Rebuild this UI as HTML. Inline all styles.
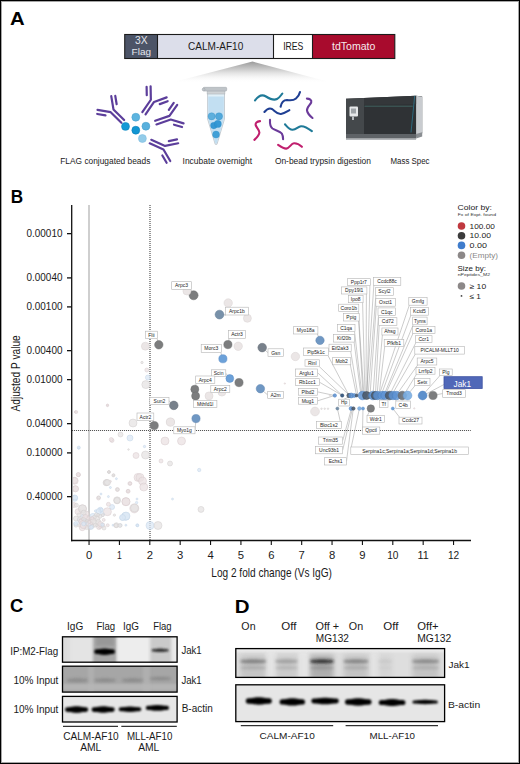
<!DOCTYPE html>
<html><head><meta charset="utf-8"><style>
html,body{margin:0;padding:0;background:#fff;}
body{width:520px;height:764px;overflow:hidden;position:relative;}
#f{position:absolute;left:0;top:0;width:520px;height:764px;box-sizing:border-box;border:1px solid #000;box-shadow:inset 0 0 0 1px rgba(0,0,0,0.35);}
svg{position:absolute;left:0;top:0;}
</style></head><body><div id="f"></div>
<svg width="520" height="764" viewBox="0 0 520 764">
<text x="9.93" y="24.90" font-size="18.00" fill="#000" font-weight="bold" font-family="'Liberation Sans', sans-serif" textLength="14.66" lengthAdjust="spacingAndGlyphs" >A</text>
<defs><linearGradient id="fan" x1="0" y1="0" x2="0" y2="1"><stop offset="0" stop-color="#9a9a9a"/><stop offset="0.45" stop-color="#d8d8d8"/><stop offset="1" stop-color="#ffffff" stop-opacity="0"/></linearGradient></defs>
<polygon points="252.5,61.5 170,83 333,83" fill="url(#fan)"/>
<rect x="125" y="34.5" width="32.5" height="24.0" fill="#4c5467"/>
<rect x="157.5" y="34.5" width="116" height="24.0" fill="#dcdeea"/>
<rect x="273.5" y="34.5" width="39" height="24.0" fill="#ffffff"/>
<rect x="312.5" y="34.5" width="82.3" height="24.0" fill="#a80b2d"/>
<rect x="124.7" y="34.5" width="270.1" height="24.0" fill="none" stroke="#1b1b1b" stroke-width="1.1"/>
<line x1="157.5" y1="34.5" x2="157.5" y2="58.5" stroke="#1b1b1b" stroke-width="1.1"/>
<line x1="273.5" y1="34.5" x2="273.5" y2="58.5" stroke="#1b1b1b" stroke-width="1.1"/>
<line x1="312.5" y1="34.5" x2="312.5" y2="58.5" stroke="#1b1b1b" stroke-width="1.1"/>
<text x="135.00" y="43.50" font-size="10.14" fill="#e4e6ec" font-weight="normal" font-family="'Liberation Sans', sans-serif" textLength="12.62" lengthAdjust="spacingAndGlyphs" >3X</text>
<text x="131.62" y="55.10" font-size="9.71" fill="#e4e6ec" font-weight="normal" font-family="'Liberation Sans', sans-serif" textLength="19.37" lengthAdjust="spacingAndGlyphs" >Flag</text>
<text x="188.05" y="49.80" font-size="10.86" fill="#1a1a1a" font-weight="normal" font-family="'Liberation Sans', sans-serif" textLength="55.20" lengthAdjust="spacingAndGlyphs" >CALM-AF10</text>
<text x="283.15" y="49.90" font-size="10.86" fill="#1a1a1a" font-weight="normal" font-family="'Liberation Sans', sans-serif" textLength="20.20" lengthAdjust="spacingAndGlyphs" >IRES</text>
<text x="332.05" y="49.90" font-size="10.86" fill="#f6eaec" font-weight="normal" font-family="'Liberation Sans', sans-serif" textLength="43.30" lengthAdjust="spacingAndGlyphs" >tdTomato</text>
<text x="60.28" y="163.90" font-size="8.71" fill="#1a1a1a" font-weight="normal" font-family="'Liberation Sans', sans-serif" textLength="90.05" lengthAdjust="spacingAndGlyphs" >FLAG conjugated beads</text>
<text x="182.58" y="163.90" font-size="8.71" fill="#1a1a1a" font-weight="normal" font-family="'Liberation Sans', sans-serif" textLength="69.45" lengthAdjust="spacingAndGlyphs" >Incubate overnight</text>
<text x="274.88" y="163.90" font-size="8.71" fill="#1a1a1a" font-weight="normal" font-family="'Liberation Sans', sans-serif" textLength="96.05" lengthAdjust="spacingAndGlyphs" >On-bead trypsin digestion</text>
<text x="390.48" y="163.90" font-size="8.71" fill="#1a1a1a" font-weight="normal" font-family="'Liberation Sans', sans-serif" textLength="39.05" lengthAdjust="spacingAndGlyphs" >Mass Spec</text>
<circle cx="125.5" cy="126.4" r="3.95" fill="#149ad6" stroke="#0c84bd" stroke-width="0.6"/>
<circle cx="135.8" cy="117.2" r="3.95" fill="#5db4df" stroke="#4aa2d0" stroke-width="0.6"/>
<circle cx="135.8" cy="130.2" r="3.95" fill="#1196d3" stroke="#0a7fba" stroke-width="0.6"/>
<circle cx="145.9" cy="126.2" r="3.95" fill="#58b0dd" stroke="#479fcd" stroke-width="0.6"/>
<circle cx="142.4" cy="138.5" r="3.95" fill="#93cce9" stroke="#80bde0" stroke-width="0.6"/>
<path transform="translate(112.3,111) rotate(-45)" d="M1.95,14.80 L1.95,-0.30 L9.73,-11.21 M-1.95,14.80 L-1.95,-0.30 L-9.73,-11.21 M7.88,-1.72 L12.76,-8.56 M-7.88,-1.72 L-12.76,-8.56" stroke="#5c3e9b" stroke-width="2.2" stroke-linecap="round" stroke-linejoin="round" fill="none"/>
<path transform="translate(152.3,101.1) rotate(34.4)" d="M1.95,14.80 L1.95,-0.30 L9.73,-11.21 M-1.95,14.80 L-1.95,-0.30 L-9.73,-11.21 M7.88,-1.72 L12.76,-8.56 M-7.88,-1.72 L-12.76,-8.56" stroke="#5c3e9b" stroke-width="2.2" stroke-linecap="round" stroke-linejoin="round" fill="none"/>
<path transform="translate(169.8,117.8) rotate(70.9)" d="M1.95,14.80 L1.95,-0.30 L9.73,-11.21 M-1.95,14.80 L-1.95,-0.30 L-9.73,-11.21 M7.88,-1.72 L12.76,-8.56 M-7.88,-1.72 L-12.76,-8.56" stroke="#5c3e9b" stroke-width="2.2" stroke-linecap="round" stroke-linejoin="round" fill="none"/>
<path transform="translate(164,147.6) rotate(114.1)" d="M1.95,14.80 L1.95,-0.30 L9.73,-11.21 M-1.95,14.80 L-1.95,-0.30 L-9.73,-11.21 M7.88,-1.72 L12.76,-8.56 M-7.88,-1.72 L-12.76,-8.56" stroke="#5c3e9b" stroke-width="2.2" stroke-linecap="round" stroke-linejoin="round" fill="none"/>
<g><path d="M207.6,93.6 L224.5,93.6 L224.5,119 L217,144.3 L215.2,144.3 L207.6,119 Z" fill="#e2f0f8" stroke="#b3bcc3" stroke-width="0.7"/><path d="M208.3,96.5 L223.8,96.5 L223.8,119 L216.8,143.2 L215.4,143.2 L208.3,119 Z" fill="#c2dff2"/><rect x="207.1" y="90.8" width="17.8" height="3.2" fill="#cfd3d6" stroke="#a9afb4" stroke-width="0.5"/><rect x="203.2" y="87.3" width="23.5" height="3.8" rx="1" fill="#bfc4c8" stroke="#9ca3a9" stroke-width="0.5"/><circle cx="203.6" cy="89.5" r="1.4" fill="#bfc4c8" stroke="#9ca3a9" stroke-width="0.5"/></g>
<circle cx="211.6" cy="116.3" r="3.6" fill="#58addc" stroke="#2585c0" stroke-width="0.3" opacity="0.95"/>
<circle cx="219" cy="116.3" r="3.6" fill="#4ba6da" stroke="#2585c0" stroke-width="0.3" opacity="0.95"/>
<circle cx="213.8" cy="125.6" r="3.3" fill="#2f95d3" stroke="#2585c0" stroke-width="0.3" opacity="0.95"/>
<circle cx="217.8" cy="123.9" r="3.6" fill="#2f96d4" stroke="#2585c0" stroke-width="0.3" opacity="0.95"/>
<circle cx="216" cy="134.5" r="3.5" fill="#3a9dd6" stroke="#2585c0" stroke-width="0.3" opacity="0.95"/>
<path d="M255,100.5 C258.5,95.5 262,94 266,96.5 C270,99 274,100.5 277,99 C280,97.5 281,95 282.3,93.6" stroke="#1f7a98" stroke-width="2.1" fill="none" stroke-linecap="round"/>
<path d="M280.6,106.8 C281.5,102 284,100 287,100 C290,100.5 293,101 296,98.5 C298.5,96.5 299.5,94 300,92" stroke="#1f3f93" stroke-width="2.1" fill="none" stroke-linecap="round"/>
<path d="M264.4,112 C266.5,109.5 269,107.5 272,109 C275,111 277,114.5 281,114 C284.5,113.5 287,111.5 289.4,110.2" stroke="#1f3f93" stroke-width="2.1" fill="none" stroke-linecap="round"/>
<path d="M306.9,98.6 C309.5,98.6 312,100 311.2,102.5 C310,105 306.5,107.5 307,110.5 C307.5,113.5 310,116 312.5,118" stroke="#6b3a9a" stroke-width="2.1" fill="none" stroke-linecap="round"/>
<path d="M260,121.1 C257,121.5 255,123 255.8,125.5 C256.8,128 259.5,130 259.4,132.5 C259.2,135.5 256.5,138 254.4,139.9" stroke="#c01f6e" stroke-width="2.1" fill="none" stroke-linecap="round"/>
<path d="M270,119.9 C269.8,123 270,126.5 272.5,128.5 C275.5,130.5 280,131 281.8,133.5 C283,135.5 283.1,137.5 283.1,139.3" stroke="#6b3a9a" stroke-width="2.1" fill="none" stroke-linecap="round"/>
<path d="M285,124.3 C287,126.5 289,129.5 292.5,129.8 C296,130 298,126.5 301,126.2 C304.5,126 308.5,128.5 311.9,131.1" stroke="#1f7a98" stroke-width="2.1" fill="none" stroke-linecap="round"/>
<path d="M278.1,144.9 C280.5,146.5 283.5,148.8 286.3,148.6 C289.5,148.4 291,143.5 294,143.3 C297,143.2 300,145 301.9,146.8" stroke="#c01f6e" stroke-width="2.1" fill="none" stroke-linecap="round"/>
<g><path d="M346,98.7 L416.1,95.8 L422.2,96.6 L422.2,133.2 L416,137 L346,137 Z" fill="#2f3235"/><path d="M416.1,95.8 L422.2,96.8 L422.2,133.4 L416.1,135 Z" fill="#c9ccd0"/><path d="M346,98.7 L364,98 L364,134.4 L346,134.4 Z" fill="#44484b"/><path d="M364,98 L416.1,95.8 L416.1,104 L364,105 Z" fill="#34373a"/><line x1="364.5" y1="106.2" x2="412.7" y2="106.2" stroke="#4f8a80" stroke-width="0.55"/><line x1="414.7" y1="95.8" x2="411" y2="132.5" stroke="#2c8fae" stroke-width="0.6"/><rect x="346" y="134" width="70.1" height="4.6" fill="#5f6367"/><path d="M416.1,134 L422.2,132.2 L422.2,136.6 L416.1,138.6 Z" fill="#8a8e92"/><rect x="346" y="138.6" width="70.1" height="1.2" fill="#a3a7ab"/><rect x="349.5" y="106.5" width="8.5" height="10" rx="1" fill="#e6e8ea"/><rect x="351" y="108.5" width="5" height="5" fill="#9fa4a8"/><rect x="352" y="116.5" width="2" height="3.5" fill="#b8bcc0"/></g>
<text x="10.72" y="203.30" font-size="18.14" fill="#000" font-weight="bold" font-family="'Liberation Sans', sans-serif" textLength="12.38" lengthAdjust="spacingAndGlyphs" >B</text>
<line x1="89" y1="205" x2="89" y2="540" stroke="#c3c3c3" stroke-width="1.6"/>
<line x1="150" y1="205" x2="150" y2="540" stroke="#505050" stroke-width="1.2" stroke-dasharray="1.1,0.9"/>
<line x1="72" y1="430.5" x2="470.8" y2="430.5" stroke="#555" stroke-width="1.1" stroke-dasharray="1.1,0.9"/>
<clipPath id="pc"><rect x="73" y="200" width="420" height="340"/></clipPath><g clip-path="url(#pc)">
<circle cx="109" cy="472" r="1.5" fill="#e6e3e3" stroke="#d0cccc" stroke-width="0.5" fill-opacity="0.75"/>
<circle cx="113.3" cy="475.4" r="1.5" fill="#e6e3e3" stroke="#d0cccc" stroke-width="0.5" fill-opacity="0.75"/>
<circle cx="116.4" cy="478.7" r="1" fill="#dbe7f4" stroke="#c2d4e7" stroke-width="0.5" fill-opacity="0.75"/>
<circle cx="78.3" cy="474.7" r="2" fill="#ebe2e3" stroke="#d6cbcd" stroke-width="0.5" fill-opacity="0.75"/>
<circle cx="74.7" cy="480.8" r="3.5" fill="#ebe2e3" stroke="#d6cbcd" stroke-width="0.5" fill-opacity="0.75"/>
<circle cx="106.1" cy="482.8" r="3" fill="#e6e3e3" stroke="#d0cccc" stroke-width="0.5" fill-opacity="0.75"/>
<circle cx="110.4" cy="481.4" r="1" fill="#ebe2e3" stroke="#d6cbcd" stroke-width="0.5" fill-opacity="0.75"/>
<circle cx="110.4" cy="487.5" r="1" fill="#dbe7f4" stroke="#c2d4e7" stroke-width="0.5" fill-opacity="0.75"/>
<circle cx="117.4" cy="489.5" r="2" fill="#ebe2e3" stroke="#d6cbcd" stroke-width="0.5" fill-opacity="0.75"/>
<circle cx="128.1" cy="491.3" r="2" fill="#ebe2e3" stroke="#d6cbcd" stroke-width="0.5" fill-opacity="0.75"/>
<circle cx="129.9" cy="483.5" r="2" fill="#ebe2e3" stroke="#d6cbcd" stroke-width="0.5" fill-opacity="0.75"/>
<circle cx="138" cy="477.4" r="4" fill="#ebe2e3" stroke="#d6cbcd" stroke-width="0.5" fill-opacity="0.75"/>
<circle cx="75.4" cy="488.8" r="3" fill="#ebe2e3" stroke="#d6cbcd" stroke-width="0.5" fill-opacity="0.75"/>
<circle cx="101" cy="494" r="1" fill="#dbe7f4" stroke="#c2d4e7" stroke-width="0.5" fill-opacity="0.75"/>
<circle cx="108.4" cy="496.6" r="1" fill="#dbe7f4" stroke="#c2d4e7" stroke-width="0.5" fill-opacity="0.75"/>
<circle cx="98.5" cy="498" r="2" fill="#ebe2e3" stroke="#d6cbcd" stroke-width="0.5" fill-opacity="0.75"/>
<circle cx="74.7" cy="498.3" r="3" fill="#dbe7f4" stroke="#c2d4e7" stroke-width="0.5" fill-opacity="0.75"/>
<circle cx="117.1" cy="500.3" r="3.5" fill="#e6e3e3" stroke="#d0cccc" stroke-width="0.5" fill-opacity="0.75"/>
<circle cx="125.9" cy="501.6" r="4" fill="#ebe2e3" stroke="#d6cbcd" stroke-width="0.5" fill-opacity="0.75"/>
<circle cx="136.6" cy="502.6" r="1.2" fill="#dbe7f4" stroke="#c2d4e7" stroke-width="0.5" fill-opacity="0.75"/>
<circle cx="134.3" cy="508.4" r="4.5" fill="#ebe2e3" stroke="#d6cbcd" stroke-width="0.5" fill-opacity="0.75"/>
<circle cx="82.4" cy="508.8" r="4" fill="#ebe2e3" stroke="#d6cbcd" stroke-width="0.5" fill-opacity="0.75"/>
<circle cx="112.1" cy="507" r="2.5" fill="#dbe7f4" stroke="#c2d4e7" stroke-width="0.5" fill-opacity="0.75"/>
<circle cx="108.4" cy="504.3" r="2" fill="#ebe2e3" stroke="#d6cbcd" stroke-width="0.5" fill-opacity="0.75"/>
<circle cx="107.4" cy="511.7" r="4" fill="#ebe2e3" stroke="#d6cbcd" stroke-width="0.5" fill-opacity="0.75"/>
<circle cx="100.3" cy="509.7" r="2.5" fill="#dbe7f4" stroke="#c2d4e7" stroke-width="0.5" fill-opacity="0.75"/>
<circle cx="102.3" cy="514.4" r="2" fill="#dbe7f4" stroke="#c2d4e7" stroke-width="0.5" fill-opacity="0.75"/>
<circle cx="95.6" cy="511" r="1.2" fill="#dbe7f4" stroke="#c2d4e7" stroke-width="0.5" fill-opacity="0.75"/>
<circle cx="114.4" cy="515.1" r="1.2" fill="#e6e3e3" stroke="#d0cccc" stroke-width="0.5" fill-opacity="0.75"/>
<circle cx="125.5" cy="516.4" r="4" fill="#dbe7f4" stroke="#c2d4e7" stroke-width="0.5" fill-opacity="0.75"/>
<circle cx="122.5" cy="517.8" r="2.5" fill="#dbe7f4" stroke="#c2d4e7" stroke-width="0.5" fill-opacity="0.75"/>
<circle cx="92.9" cy="516.4" r="3" fill="#dbe7f4" stroke="#c2d4e7" stroke-width="0.5" fill-opacity="0.75"/>
<circle cx="96.9" cy="518.5" r="3" fill="#e6e3e3" stroke="#d0cccc" stroke-width="0.5" fill-opacity="0.75"/>
<circle cx="83.5" cy="517.1" r="3" fill="#dbe7f4" stroke="#c2d4e7" stroke-width="0.5" fill-opacity="0.75"/>
<circle cx="78" cy="511.7" r="3" fill="#ebe2e3" stroke="#d6cbcd" stroke-width="0.5" fill-opacity="0.75"/>
<circle cx="74" cy="505" r="2.5" fill="#ebe2e3" stroke="#d6cbcd" stroke-width="0.5" fill-opacity="0.75"/>
<circle cx="76" cy="518.5" r="2.5" fill="#e6e3e3" stroke="#d0cccc" stroke-width="0.5" fill-opacity="0.75"/>
<circle cx="87.5" cy="521.8" r="2.5" fill="#e6e3e3" stroke="#d0cccc" stroke-width="0.5" fill-opacity="0.75"/>
<circle cx="90.9" cy="524.5" r="3" fill="#ebe2e3" stroke="#d6cbcd" stroke-width="0.5" fill-opacity="0.75"/>
<circle cx="98.3" cy="521.8" r="2.5" fill="#e6e3e3" stroke="#d0cccc" stroke-width="0.5" fill-opacity="0.75"/>
<circle cx="102.3" cy="525.2" r="2.5" fill="#ebe2e3" stroke="#d6cbcd" stroke-width="0.5" fill-opacity="0.75"/>
<circle cx="107.7" cy="525.2" r="1.5" fill="#ebe2e3" stroke="#d6cbcd" stroke-width="0.5" fill-opacity="0.75"/>
<circle cx="113.1" cy="525.2" r="1" fill="#dbe7f4" stroke="#c2d4e7" stroke-width="0.5" fill-opacity="0.75"/>
<circle cx="116.4" cy="525.2" r="2.5" fill="#e6e3e3" stroke="#d0cccc" stroke-width="0.5" fill-opacity="0.75"/>
<circle cx="120.5" cy="525.2" r="1.5" fill="#dbe7f4" stroke="#c2d4e7" stroke-width="0.5" fill-opacity="0.75"/>
<circle cx="125.9" cy="525.2" r="1" fill="#dbe7f4" stroke="#c2d4e7" stroke-width="0.5" fill-opacity="0.75"/>
<circle cx="137.3" cy="525.2" r="1.5" fill="#dbe7f4" stroke="#c2d4e7" stroke-width="0.5" fill-opacity="0.75"/>
<circle cx="76" cy="525.2" r="2" fill="#e6e3e3" stroke="#d0cccc" stroke-width="0.5" fill-opacity="0.75"/>
<circle cx="80" cy="525.2" r="2" fill="#e6e3e3" stroke="#d0cccc" stroke-width="0.5" fill-opacity="0.75"/>
<circle cx="83.5" cy="523.8" r="2" fill="#ebe2e3" stroke="#d6cbcd" stroke-width="0.5" fill-opacity="0.75"/>
<circle cx="95" cy="525.2" r="2" fill="#e6e3e3" stroke="#d0cccc" stroke-width="0.5" fill-opacity="0.75"/>
<circle cx="86" cy="514" r="3" fill="#ebe2e3" stroke="#d6cbcd" stroke-width="0.5" fill-opacity="0.75"/>
<circle cx="80" cy="520" r="2.5" fill="#dbe7f4" stroke="#c2d4e7" stroke-width="0.5" fill-opacity="0.75"/>
<circle cx="88" cy="518" r="2" fill="#ebe2e3" stroke="#d6cbcd" stroke-width="0.5" fill-opacity="0.75"/>
<circle cx="92" cy="521" r="2.5" fill="#ebe2e3" stroke="#d6cbcd" stroke-width="0.5" fill-opacity="0.75"/>
<circle cx="79" cy="515" r="2" fill="#e6e3e3" stroke="#d0cccc" stroke-width="0.5" fill-opacity="0.75"/>
<circle cx="85" cy="526" r="2.5" fill="#ebe2e3" stroke="#d6cbcd" stroke-width="0.5" fill-opacity="0.75"/>
<circle cx="90" cy="527.5" r="2" fill="#e6e3e3" stroke="#d0cccc" stroke-width="0.5" fill-opacity="0.75"/>
<circle cx="99" cy="527" r="2.5" fill="#ebe2e3" stroke="#d6cbcd" stroke-width="0.5" fill-opacity="0.75"/>
<circle cx="104" cy="528" r="2" fill="#e6e3e3" stroke="#d0cccc" stroke-width="0.5" fill-opacity="0.75"/>
<circle cx="120.5" cy="434.5" r="2.5" fill="#e6e3e3" stroke="#d0cccc" stroke-width="0.5" fill-opacity="0.75"/>
<circle cx="130" cy="438" r="3" fill="#dbe7f4" stroke="#c2d4e7" stroke-width="0.5" fill-opacity="0.75"/>
<circle cx="112" cy="440.5" r="2" fill="#ebe2e3" stroke="#d6cbcd" stroke-width="0.5" fill-opacity="0.75"/>
<circle cx="165" cy="441" r="4" fill="#ebe2e3" stroke="#d6cbcd" stroke-width="0.5" fill-opacity="0.75"/>
<circle cx="181.5" cy="441" r="4" fill="#ebe2e3" stroke="#d6cbcd" stroke-width="0.5" fill-opacity="0.75"/>
<circle cx="78.75" cy="448" r="1.2" fill="#dbe7f4" stroke="#c2d4e7" stroke-width="0.5" fill-opacity="0.75"/>
<circle cx="144.5" cy="446.5" r="1.2" fill="#dbe7f4" stroke="#c2d4e7" stroke-width="0.5" fill-opacity="0.75"/>
<circle cx="128.5" cy="449.5" r="0.8" fill="#e6e3e3" stroke="#d0cccc" stroke-width="0.5" fill-opacity="0.75"/>
<circle cx="136" cy="455.5" r="3" fill="#ebe2e3" stroke="#d6cbcd" stroke-width="0.5" fill-opacity="0.75"/>
<circle cx="145.5" cy="455" r="4" fill="#e6e3e3" stroke="#d0cccc" stroke-width="0.5" fill-opacity="0.75"/>
<circle cx="161" cy="461" r="2" fill="#ebe2e3" stroke="#d6cbcd" stroke-width="0.5" fill-opacity="0.75"/>
<circle cx="170" cy="463.5" r="2.5" fill="#e6e3e3" stroke="#d0cccc" stroke-width="0.5" fill-opacity="0.75"/>
<circle cx="199.2" cy="470" r="1.7" fill="#dbe7f4" stroke="#c2d4e7" stroke-width="0.5" fill-opacity="0.75"/>
<circle cx="78.75" cy="475" r="1.5" fill="#ebe2e3" stroke="#d6cbcd" stroke-width="0.5" fill-opacity="0.75"/>
<circle cx="109" cy="472" r="1.2" fill="#e6e3e3" stroke="#d0cccc" stroke-width="0.5" fill-opacity="0.75"/>
<circle cx="106.5" cy="482.5" r="3" fill="#e6e3e3" stroke="#d0cccc" stroke-width="0.5" fill-opacity="0.75"/>
<circle cx="140" cy="477.5" r="4" fill="#ebe2e3" stroke="#d6cbcd" stroke-width="0.5" fill-opacity="0.75"/>
<circle cx="142.5" cy="481" r="4" fill="#ebe2e3" stroke="#d6cbcd" stroke-width="0.5" fill-opacity="0.75"/>
<circle cx="143.75" cy="487" r="4" fill="#ebe2e3" stroke="#d6cbcd" stroke-width="0.5" fill-opacity="0.75"/>
<circle cx="130" cy="483.5" r="1.5" fill="#ebe2e3" stroke="#d6cbcd" stroke-width="0.5" fill-opacity="0.75"/>
<circle cx="117.5" cy="489.5" r="1.5" fill="#e6e3e3" stroke="#d0cccc" stroke-width="0.5" fill-opacity="0.75"/>
<circle cx="128" cy="491" r="1.5" fill="#ebe2e3" stroke="#d6cbcd" stroke-width="0.5" fill-opacity="0.75"/>
<circle cx="98.75" cy="497.5" r="1.5" fill="#e6e3e3" stroke="#d0cccc" stroke-width="0.5" fill-opacity="0.75"/>
<circle cx="117" cy="500.5" r="3" fill="#e6e3e3" stroke="#d0cccc" stroke-width="0.5" fill-opacity="0.75"/>
<circle cx="126" cy="501.75" r="4" fill="#ebe2e3" stroke="#d6cbcd" stroke-width="0.5" fill-opacity="0.75"/>
<circle cx="134.5" cy="508" r="4" fill="#e6e3e3" stroke="#d0cccc" stroke-width="0.5" fill-opacity="0.75"/>
<circle cx="137" cy="499" r="1" fill="#dbe7f4" stroke="#c2d4e7" stroke-width="0.5" fill-opacity="0.75"/>
<circle cx="172.5" cy="499" r="1" fill="#dbe7f4" stroke="#c2d4e7" stroke-width="0.5" fill-opacity="0.75"/>
<circle cx="201" cy="509.4" r="3" fill="#e6e3e3" stroke="#d0cccc" stroke-width="0.5" fill-opacity="0.75"/>
<circle cx="126" cy="516" r="4" fill="#dbe7f4" stroke="#c2d4e7" stroke-width="0.5" fill-opacity="0.75"/>
<circle cx="122.5" cy="517.5" r="3" fill="#dbe7f4" stroke="#c2d4e7" stroke-width="0.5" fill-opacity="0.75"/>
<circle cx="116" cy="525.5" r="2" fill="#e6e3e3" stroke="#d0cccc" stroke-width="0.5" fill-opacity="0.75"/>
<circle cx="120" cy="525.5" r="2" fill="#e6e3e3" stroke="#d0cccc" stroke-width="0.5" fill-opacity="0.75"/>
<circle cx="137.5" cy="525.5" r="1.2" fill="#dbe7f4" stroke="#c2d4e7" stroke-width="0.5" fill-opacity="0.75"/>
<circle cx="150" cy="525.5" r="4" fill="#dbe7f4" stroke="#c2d4e7" stroke-width="0.5" fill-opacity="0.75"/>
<circle cx="158" cy="525.5" r="4" fill="#e6e3e3" stroke="#d0cccc" stroke-width="0.5" fill-opacity="0.75"/>
<circle cx="142" cy="362.5" r="1.2" fill="#e6e3e3" stroke="#d0cccc" stroke-width="0.5" fill-opacity="0.75"/>
<circle cx="146.8" cy="370" r="2" fill="#ebe2e3" stroke="#d6cbcd" stroke-width="0.5" fill-opacity="0.75"/>
<circle cx="147.9" cy="377.5" r="2.5" fill="#dbe7f4" stroke="#c2d4e7" stroke-width="0.5" fill-opacity="0.75"/>
<circle cx="145.8" cy="384.6" r="4" fill="#e6e3e3" stroke="#d0cccc" stroke-width="0.5" fill-opacity="0.75"/>
<circle cx="107.5" cy="405.5" r="1.2" fill="#ebe2e3" stroke="#d6cbcd" stroke-width="0.5" fill-opacity="0.75"/>
<circle cx="75.5" cy="412" r="1.2" fill="#ebe2e3" stroke="#d6cbcd" stroke-width="0.5" fill-opacity="0.75"/>
<circle cx="76.25" cy="412" r="1.5" fill="#ebe2e3" stroke="#d6cbcd" stroke-width="0.5" fill-opacity="0.75"/>
<circle cx="107.5" cy="405" r="1" fill="#ebe2e3" stroke="#d6cbcd" stroke-width="0.5" fill-opacity="0.75"/>
<circle cx="133" cy="423" r="4" fill="#e6e3e3" stroke="#d0cccc" stroke-width="0.5" fill-opacity="0.75"/>
<circle cx="170.5" cy="422" r="4" fill="#e6e3e3" stroke="#d0cccc" stroke-width="0.5" fill-opacity="0.75"/>
<circle cx="111.25" cy="439.5" r="2" fill="#ebe2e3" stroke="#d6cbcd" stroke-width="0.5" fill-opacity="0.75"/>
<circle cx="78.75" cy="447.5" r="1.5" fill="#dbe7f4" stroke="#c2d4e7" stroke-width="0.5" fill-opacity="0.75"/>
<circle cx="78.25" cy="474.5" r="2" fill="#ebe2e3" stroke="#d6cbcd" stroke-width="0.5" fill-opacity="0.75"/>
<circle cx="74.5" cy="480.5" r="3" fill="#ebe2e3" stroke="#d6cbcd" stroke-width="0.5" fill-opacity="0.75"/>
<circle cx="75.5" cy="488.75" r="3" fill="#ebe2e3" stroke="#d6cbcd" stroke-width="0.5" fill-opacity="0.75"/>
<circle cx="75" cy="497.5" r="2.5" fill="#dbe7f4" stroke="#c2d4e7" stroke-width="0.5" fill-opacity="0.75"/>
<circle cx="82.5" cy="508.75" r="4" fill="#e6e3e3" stroke="#d0cccc" stroke-width="0.5" fill-opacity="0.75"/>
<circle cx="108.75" cy="472" r="1.2" fill="#e6e3e3" stroke="#d0cccc" stroke-width="0.5" fill-opacity="0.75"/>
<circle cx="113.75" cy="475" r="1.2" fill="#e6e3e3" stroke="#d0cccc" stroke-width="0.5" fill-opacity="0.75"/>
<circle cx="107.5" cy="482.5" r="3" fill="#e6e3e3" stroke="#d0cccc" stroke-width="0.5" fill-opacity="0.75"/>
<circle cx="94.5" cy="517" r="2" fill="#e6e3e3" stroke="#d0cccc" stroke-width="0.5" fill-opacity="0.75"/>
<circle cx="100" cy="516.25" r="2" fill="#e6e3e3" stroke="#d0cccc" stroke-width="0.5" fill-opacity="0.75"/>
<circle cx="101.25" cy="510" r="2" fill="#dbe7f4" stroke="#c2d4e7" stroke-width="0.5" fill-opacity="0.75"/>
<circle cx="80.4" cy="519.6" r="3" fill="#e6e3e3" stroke="#d0cccc" stroke-width="0.5" fill-opacity="0.75"/>
<circle cx="91.8" cy="519.1" r="2.5" fill="#ebe2e3" stroke="#d6cbcd" stroke-width="0.5" fill-opacity="0.75"/>
<circle cx="90.1" cy="525.7" r="3" fill="#dbe7f4" stroke="#c2d4e7" stroke-width="0.5" fill-opacity="0.75"/>
<circle cx="85.3" cy="517.0" r="1.5" fill="#ebe2e3" stroke="#d6cbcd" stroke-width="0.5" fill-opacity="0.75"/>
<circle cx="99.9" cy="527.3" r="1.2" fill="#ebe2e3" stroke="#d6cbcd" stroke-width="0.5" fill-opacity="0.75"/>
<circle cx="96.5" cy="514.6" r="2" fill="#e6e3e3" stroke="#d0cccc" stroke-width="0.5" fill-opacity="0.75"/>
<circle cx="98.5" cy="511.2" r="2.5" fill="#dbe7f4" stroke="#c2d4e7" stroke-width="0.5" fill-opacity="0.75"/>
<circle cx="85.2" cy="516.7" r="2.5" fill="#ebe2e3" stroke="#d6cbcd" stroke-width="0.5" fill-opacity="0.75"/>
<circle cx="100.2" cy="523.9" r="2.5" fill="#ebe2e3" stroke="#d6cbcd" stroke-width="0.5" fill-opacity="0.75"/>
<circle cx="86.1" cy="523.3" r="3" fill="#ebe2e3" stroke="#d6cbcd" stroke-width="0.5" fill-opacity="0.75"/>
<circle cx="89.6" cy="527.1" r="1.2" fill="#ebe2e3" stroke="#d6cbcd" stroke-width="0.5" fill-opacity="0.75"/>
<circle cx="103.7" cy="519.9" r="1.5" fill="#ebe2e3" stroke="#d6cbcd" stroke-width="0.5" fill-opacity="0.75"/>
<circle cx="102.9" cy="515.1" r="1.5" fill="#e6e3e3" stroke="#d0cccc" stroke-width="0.5" fill-opacity="0.75"/>
<circle cx="81.3" cy="522.0" r="2.5" fill="#dbe7f4" stroke="#c2d4e7" stroke-width="0.5" fill-opacity="0.75"/>
<circle cx="75.7" cy="523.6" r="2" fill="#dbe7f4" stroke="#c2d4e7" stroke-width="0.5" fill-opacity="0.75"/>
<circle cx="96.8" cy="525.3" r="1.2" fill="#e6e3e3" stroke="#d0cccc" stroke-width="0.5" fill-opacity="0.75"/>
<circle cx="92.1" cy="526.4" r="2" fill="#e6e3e3" stroke="#d0cccc" stroke-width="0.5" fill-opacity="0.75"/>
<circle cx="80.3" cy="520.1" r="1.2" fill="#e6e3e3" stroke="#d0cccc" stroke-width="0.5" fill-opacity="0.75"/>
<circle cx="76.4" cy="505.2" r="2" fill="#e6e3e3" stroke="#d0cccc" stroke-width="0.5" fill-opacity="0.75"/>
<circle cx="81.2" cy="520.4" r="2" fill="#ebe2e3" stroke="#d6cbcd" stroke-width="0.5" fill-opacity="0.75"/>
<circle cx="84.2" cy="522.3" r="3" fill="#dbe7f4" stroke="#c2d4e7" stroke-width="0.5" fill-opacity="0.75"/>
<circle cx="93.0" cy="521.3" r="3" fill="#e6e3e3" stroke="#d0cccc" stroke-width="0.5" fill-opacity="0.75"/>
<circle cx="92.2" cy="518.4" r="1.5" fill="#ebe2e3" stroke="#d6cbcd" stroke-width="0.5" fill-opacity="0.75"/>
<circle cx="86.6" cy="527.6" r="2" fill="#e6e3e3" stroke="#d0cccc" stroke-width="0.5" fill-opacity="0.75"/>
<circle cx="83.5" cy="520.2" r="2.5" fill="#e6e3e3" stroke="#d0cccc" stroke-width="0.5" fill-opacity="0.75"/>
<circle cx="91.3" cy="527.4" r="2" fill="#dbe7f4" stroke="#c2d4e7" stroke-width="0.5" fill-opacity="0.75"/>
<circle cx="83.9" cy="522.4" r="2.5" fill="#e6e3e3" stroke="#d0cccc" stroke-width="0.5" fill-opacity="0.75"/>
<circle cx="91.3" cy="523.4" r="1.2" fill="#ebe2e3" stroke="#d6cbcd" stroke-width="0.5" fill-opacity="0.75"/>
<circle cx="80.8" cy="521.4" r="2" fill="#ebe2e3" stroke="#d6cbcd" stroke-width="0.5" fill-opacity="0.75"/>
<circle cx="82.7" cy="523.7" r="3" fill="#ebe2e3" stroke="#d6cbcd" stroke-width="0.5" fill-opacity="0.75"/>
<circle cx="82.3" cy="527.7" r="3" fill="#ebe2e3" stroke="#d6cbcd" stroke-width="0.5" fill-opacity="0.75"/>
<circle cx="82.6" cy="525.9" r="2" fill="#ebe2e3" stroke="#d6cbcd" stroke-width="0.5" fill-opacity="0.75"/>
<circle cx="83.2" cy="525.6" r="3" fill="#ebe2e3" stroke="#d6cbcd" stroke-width="0.5" fill-opacity="0.75"/>
<circle cx="102.4" cy="524.7" r="1.5" fill="#dbe7f4" stroke="#c2d4e7" stroke-width="0.5" fill-opacity="0.75"/>
<circle cx="98.1" cy="515.0" r="1.5" fill="#e6e3e3" stroke="#d0cccc" stroke-width="0.5" fill-opacity="0.75"/>
<circle cx="87.0" cy="520.9" r="1.2" fill="#e6e3e3" stroke="#d0cccc" stroke-width="0.5" fill-opacity="0.75"/>
<circle cx="89.4" cy="522.0" r="1.5" fill="#ebe2e3" stroke="#d6cbcd" stroke-width="0.5" fill-opacity="0.75"/>
<circle cx="83.5" cy="511.9" r="1.2" fill="#e6e3e3" stroke="#d0cccc" stroke-width="0.5" fill-opacity="0.75"/>
<circle cx="83.7" cy="523.8" r="2" fill="#dbe7f4" stroke="#c2d4e7" stroke-width="0.5" fill-opacity="0.75"/>
<circle cx="83.7" cy="512.6" r="2.5" fill="#e6e3e3" stroke="#d0cccc" stroke-width="0.5" fill-opacity="0.75"/>
</g>
<g stroke="#8d8d8d" stroke-width="0.45" fill="none"><line x1="190.90" y1="289.40" x2="193.6" y2="295.3"/><line x1="226.00" y1="315.00" x2="219.5" y2="314.6"/><line x1="157.00" y1="338.30" x2="159" y2="344.8"/><line x1="229.10" y1="338.30" x2="227.9" y2="344.6"/><line x1="220.80" y1="352.50" x2="222.9" y2="358.75"/><line x1="268.00" y1="352.65" x2="261.8" y2="347.5"/><line x1="225.80" y1="373.20" x2="229.5" y2="378.2"/><line x1="196.20" y1="383.40" x2="194.5" y2="389.5"/><line x1="267.70" y1="394.95" x2="260.3" y2="388.6"/><line x1="194.00" y1="400.30" x2="195.4" y2="396"/><line x1="169.00" y1="400.85" x2="173.8" y2="405.2"/><line x1="153.30" y1="420.30" x2="154.2" y2="425.5"/><line x1="195.00" y1="430.30" x2="196" y2="418.8"/><line x1="317.40" y1="334.00" x2="320" y2="340.4"/><line x1="328.00" y1="355.60" x2="349" y2="395.5"/><line x1="318.90" y1="366.20" x2="349.5" y2="395.5"/><line x1="317.50" y1="372.65" x2="342.3" y2="395.5"/><line x1="319.40" y1="382.15" x2="342.3" y2="395.5"/><line x1="317.50" y1="391.85" x2="334.6" y2="395.5"/><line x1="317.50" y1="400.85" x2="334.6" y2="395.5"/><line x1="344.10" y1="399.20" x2="351.5" y2="395.5"/><line x1="340.30" y1="421.50" x2="337.4" y2="408.5"/><line x1="342.70" y1="440.60" x2="351.5" y2="408.5"/><line x1="342.70" y1="450.15" x2="352.5" y2="408.5"/><line x1="346.50" y1="461.35" x2="353.3" y2="408.5"/><line x1="351.30" y1="447.00" x2="359.4" y2="408.5"/><line x1="362.50" y1="430.60" x2="363" y2="408.5"/><line x1="367.50" y1="415.40" x2="370.8" y2="408.5"/><line x1="383.75" y1="400.00" x2="383.8" y2="395.5"/><line x1="396.30" y1="401.00" x2="391.5" y2="395.5"/><line x1="399.50" y1="417.20" x2="392.8" y2="408.5"/><line x1="442.70" y1="393.50" x2="433" y2="395.5"/><line x1="440.00" y1="375.50" x2="424.5" y2="393"/><line x1="415.10" y1="385.50" x2="407" y2="395.5"/><line x1="416.50" y1="374.20" x2="403.5" y2="395.5"/><line x1="417.70" y1="365.00" x2="396" y2="395.5"/><line x1="415.30" y1="354.10" x2="391.5" y2="395.5"/><line x1="415.90" y1="342.60" x2="389.2" y2="395.5"/><line x1="413.00" y1="333.40" x2="385" y2="395.5"/><line x1="413.20" y1="324.80" x2="383.8" y2="395.5"/><line x1="410.90" y1="315.20" x2="381" y2="395.5"/><line x1="409.30" y1="305.20" x2="379" y2="395.5"/><line x1="384.70" y1="346.50" x2="379" y2="395.5"/><line x1="382.40" y1="335.00" x2="377" y2="395.5"/><line x1="379.20" y1="325.40" x2="375.4" y2="395.5"/><line x1="378.50" y1="315.60" x2="373" y2="395.5"/><line x1="376.30" y1="306.20" x2="370" y2="395.5"/><line x1="375.90" y1="295.40" x2="368" y2="395.5"/><line x1="373.80" y1="285.40" x2="366.5" y2="395.5"/><line x1="369.90" y1="285.40" x2="367" y2="395.5"/><line x1="366.40" y1="294.00" x2="366" y2="395.5"/><line x1="362.60" y1="302.70" x2="365" y2="395.5"/><line x1="358.30" y1="311.30" x2="364" y2="395.5"/><line x1="358.70" y1="321.00" x2="363" y2="395.5"/><line x1="354.50" y1="331.50" x2="362" y2="395.5"/><line x1="354.10" y1="342.10" x2="361" y2="395.5"/><line x1="350.70" y1="351.30" x2="358" y2="395.5"/><line x1="350.30" y1="364.80" x2="356.6" y2="395.5"/><line x1="444" y1="384.5" x2="426" y2="394"/></g>
<circle cx="193.6" cy="295.3" r="4.5" fill="#7c7d7e" stroke="#6d6e6f" stroke-width="0.5" fill-opacity="1.0"/>
<circle cx="186.9" cy="291" r="4" fill="#ebe6e6" stroke="#d9d3d3" stroke-width="0.5" fill-opacity="1.0"/>
<circle cx="228.2" cy="303" r="4.2" fill="#ebe6e6" stroke="#d9d3d3" stroke-width="0.5" fill-opacity="1.0"/>
<circle cx="219.5" cy="314.6" r="4.4" fill="#7891a9" stroke="#667f97" stroke-width="0.5" fill-opacity="1.0"/>
<circle cx="247.4" cy="318.3" r="4" fill="#ebe6e6" stroke="#d9d3d3" stroke-width="0.5" fill-opacity="1.0"/>
<circle cx="158.8" cy="344.8" r="4.2" fill="#7c7d7e" stroke="#6d6e6f" stroke-width="0.5" fill-opacity="1.0"/>
<circle cx="145.4" cy="346.2" r="4" fill="#ebe6e6" stroke="#d9d3d3" stroke-width="0.5" fill-opacity="1.0"/>
<circle cx="227.9" cy="344.6" r="4.1" fill="#7c7d7e" stroke="#6d6e6f" stroke-width="0.5" fill-opacity="1.0"/>
<circle cx="238.2" cy="346.25" r="4.2" fill="#ebe6e6" stroke="#d9d3d3" stroke-width="0.5" fill-opacity="1.0"/>
<circle cx="222.9" cy="358.75" r="4.1" fill="#6ca1d9" stroke="#5a8dc6" stroke-width="0.5" fill-opacity="1.0"/>
<circle cx="262.2" cy="347.6" r="4.3" fill="#78818b" stroke="#68717b" stroke-width="0.5" fill-opacity="1.0"/>
<circle cx="295.4" cy="356.5" r="4.2" fill="#ebe6e6" stroke="#d9d3d3" stroke-width="0.5" fill-opacity="1.0"/>
<circle cx="229.8" cy="378.5" r="3.9" fill="#6ca1d9" stroke="#5a8dc6" stroke-width="0.5" fill-opacity="1.0"/>
<circle cx="239" cy="382.6" r="4.1" fill="#7c7d7e" stroke="#6d6e6f" stroke-width="0.5" fill-opacity="1.0"/>
<circle cx="194.8" cy="389.2" r="4" fill="#7c7d7e" stroke="#6d6e6f" stroke-width="0.5" fill-opacity="1.0"/>
<circle cx="195.6" cy="395.9" r="4" fill="#7c7d7e" stroke="#6d6e6f" stroke-width="0.5" fill-opacity="1.0"/>
<circle cx="209" cy="395.9" r="4" fill="#ebe6e6" stroke="#d9d3d3" stroke-width="0.5" fill-opacity="1.0"/>
<circle cx="221.9" cy="392.1" r="4" fill="#ebe6e6" stroke="#d9d3d3" stroke-width="0.5" fill-opacity="1.0"/>
<circle cx="260.4" cy="388.7" r="4.2" fill="#6f97c3" stroke="#5e85b1" stroke-width="0.5" fill-opacity="1.0"/>
<circle cx="173.8" cy="405.4" r="4.3" fill="#78818b" stroke="#68717b" stroke-width="0.5" fill-opacity="1.0"/>
<circle cx="196" cy="418.6" r="4.1" fill="#6f97c3" stroke="#5e85b1" stroke-width="0.5" fill-opacity="1.0"/>
<circle cx="154.2" cy="425.6" r="4.1" fill="#7c7d7e" stroke="#6d6e6f" stroke-width="0.5" fill-opacity="1.0"/>
<circle cx="170.4" cy="422.1" r="4.1" fill="#ebe6e6" stroke="#d9d3d3" stroke-width="0.5" fill-opacity="1.0"/>
<circle cx="320" cy="340.4" r="4.2" fill="#6f97c3" stroke="#5e85b1" stroke-width="0.5" fill-opacity="1.0"/>
<circle cx="315" cy="411.5" r="4.4" fill="#ebe6e6" stroke="#d9d3d3" stroke-width="0.5" fill-opacity="1.0"/>
<circle cx="334.8" cy="395.5" r="1.7" fill="#5d92d2" stroke="#4a7fbf" stroke-width="0.5" fill-opacity="0.85"/>
<circle cx="342.2" cy="395.5" r="1.7" fill="#3f5f85" stroke="#2f4a6a" stroke-width="0.5" fill-opacity="1.0"/>
<circle cx="349" cy="395.5" r="2.2" fill="#4d5a6a" stroke="#3c4857" stroke-width="0.5" fill-opacity="0.9"/>
<circle cx="351.2" cy="395.5" r="2.5" fill="#5d92d2" stroke="#4a7fbf" stroke-width="0.5" fill-opacity="0.85"/>
<circle cx="354.3" cy="395.5" r="2" fill="#5d92d2" stroke="#4a7fbf" stroke-width="0.5" fill-opacity="0.85"/>
<circle cx="356.6" cy="395.5" r="1.5" fill="#4d5a6a" stroke="#3c4857" stroke-width="0.5" fill-opacity="0.9"/>
<circle cx="362.5" cy="395.5" r="4.3" fill="#5d92d2" stroke="#4a7fbf" stroke-width="0.5" fill-opacity="0.85"/>
<circle cx="366.5" cy="395.5" r="4.0" fill="#4d5a6a" stroke="#3c4857" stroke-width="0.5" fill-opacity="0.9"/>
<circle cx="372.9" cy="395.5" r="4.3" fill="#5d92d2" stroke="#4a7fbf" stroke-width="0.5" fill-opacity="0.85"/>
<circle cx="375.2" cy="395.5" r="4.0" fill="#4d5a6a" stroke="#3c4857" stroke-width="0.5" fill-opacity="0.9"/>
<circle cx="377.5" cy="395.5" r="4.2" fill="#5d92d2" stroke="#4a7fbf" stroke-width="0.5" fill-opacity="0.85"/>
<circle cx="382.1" cy="395.5" r="4.2" fill="#5d92d2" stroke="#4a7fbf" stroke-width="0.5" fill-opacity="0.85"/>
<circle cx="385" cy="395.5" r="4.2" fill="#5d92d2" stroke="#4a7fbf" stroke-width="0.5" fill-opacity="0.85"/>
<circle cx="389.6" cy="395.5" r="4.3" fill="#4d5a6a" stroke="#3c4857" stroke-width="0.5" fill-opacity="0.9"/>
<circle cx="393" cy="395.5" r="4.2" fill="#5d92d2" stroke="#4a7fbf" stroke-width="0.5" fill-opacity="0.85"/>
<circle cx="396.5" cy="395.5" r="4.2" fill="#5d92d2" stroke="#4a7fbf" stroke-width="0.5" fill-opacity="0.85"/>
<circle cx="402.3" cy="395.5" r="4.3" fill="#6d747b" stroke="#5c636a" stroke-width="0.5" fill-opacity="0.95"/>
<circle cx="407.5" cy="395.5" r="4.4" fill="#7aaee2" stroke="#6a9bd0" stroke-width="0.5" fill-opacity="0.9"/>
<circle cx="422.6" cy="395.5" r="4.4" fill="#5d90cc" stroke="#4a7fbf" stroke-width="0.5" fill-opacity="1.0"/>
<circle cx="433" cy="395.5" r="4.1" fill="#7c7d7e" stroke="#6d6e6f" stroke-width="0.5" fill-opacity="1.0"/>
<circle cx="337.4" cy="408.5" r="1.5" fill="#7891a9" stroke="#667f97" stroke-width="0.5" fill-opacity="1.0"/>
<circle cx="351" cy="408.5" r="1.9" fill="#5d92d2" stroke="#4a7fbf" stroke-width="0.5" fill-opacity="0.85"/>
<circle cx="353.4" cy="408.5" r="1.7" fill="#4d5a6a" stroke="#3c4857" stroke-width="0.5" fill-opacity="0.9"/>
<circle cx="359.4" cy="408.5" r="1.8" fill="#7aaee2" stroke="#6a9bd0" stroke-width="0.5" fill-opacity="0.9"/>
<circle cx="363" cy="408.5" r="1.5" fill="#6ca1d9" stroke="#5a8dc6" stroke-width="0.5" fill-opacity="1.0"/>
<circle cx="370.8" cy="408.5" r="3.7" fill="#7c7d7e" stroke="#6d6e6f" stroke-width="0.5" fill-opacity="1.0"/>
<circle cx="392.8" cy="408.5" r="1.5" fill="#6ca1d9" stroke="#5a8dc6" stroke-width="0.5" fill-opacity="1.0"/>
<circle cx="284.8" cy="383.5" r="0.7" fill="#ebe2e3" stroke="#d6cbcd" stroke-width="0.5" fill-opacity="0.75"/>
<circle cx="321.5" cy="408.7" r="0.8" fill="#e6e3e3" stroke="#d0cccc" stroke-width="0.5" fill-opacity="0.75"/>
<circle cx="324.7" cy="408.7" r="0.8" fill="#e6e3e3" stroke="#d0cccc" stroke-width="0.5" fill-opacity="0.75"/>
<circle cx="328" cy="408.7" r="0.8" fill="#e6e3e3" stroke="#d0cccc" stroke-width="0.5" fill-opacity="0.75"/>
<circle cx="330" cy="395.5" r="0.8" fill="#e6e3e3" stroke="#d0cccc" stroke-width="0.5" fill-opacity="0.75"/>
<circle cx="414.3" cy="408.4" r="0.7" fill="#ebe2e3" stroke="#d6cbcd" stroke-width="0.5" fill-opacity="0.75"/>
<rect x="171.7" y="281.7" width="19.70" height="7.70" fill="#fff" stroke="#b4b4b4" stroke-width="0.6"/>
<text x="181.55" y="287.40" font-size="5.3" fill="#1c1c1c" text-anchor="middle" font-family="'Liberation Sans', sans-serif" textLength="13.01" lengthAdjust="spacingAndGlyphs">Arpc3</text>
<rect x="225.5" y="307.2" width="22.80" height="7.80" fill="#fff" stroke="#b4b4b4" stroke-width="0.6"/>
<text x="236.90" y="312.95" font-size="5.3" fill="#1c1c1c" text-anchor="middle" font-family="'Liberation Sans', sans-serif" textLength="15.78" lengthAdjust="spacingAndGlyphs">Arpc1b</text>
<rect x="145.5" y="331.2" width="12.00" height="7.10" fill="#fff" stroke="#b4b4b4" stroke-width="0.6"/>
<text x="151.50" y="336.60" font-size="5.3" fill="#1c1c1c" text-anchor="middle" font-family="'Liberation Sans', sans-serif" textLength="6.36" lengthAdjust="spacingAndGlyphs">Flii</text>
<rect x="228.6" y="330.6" width="16.90" height="7.70" fill="#fff" stroke="#b4b4b4" stroke-width="0.6"/>
<text x="237.05" y="336.30" font-size="5.3" fill="#1c1c1c" text-anchor="middle" font-family="'Liberation Sans', sans-serif" textLength="11.63" lengthAdjust="spacingAndGlyphs">Actr3</text>
<rect x="201.2" y="344.3" width="20.10" height="8.20" fill="#fff" stroke="#b4b4b4" stroke-width="0.6"/>
<text x="211.25" y="350.25" font-size="5.3" fill="#1c1c1c" text-anchor="middle" font-family="'Liberation Sans', sans-serif" textLength="13.84" lengthAdjust="spacingAndGlyphs">Morc3</text>
<rect x="268" y="348.8" width="15.40" height="7.70" fill="#fff" stroke="#b4b4b4" stroke-width="0.6"/>
<text x="275.70" y="354.50" font-size="5.3" fill="#1c1c1c" text-anchor="middle" font-family="'Liberation Sans', sans-serif" textLength="9.14" lengthAdjust="spacingAndGlyphs">Gsn</text>
<rect x="211.4" y="369.8" width="14.40" height="6.80" fill="#fff" stroke="#b4b4b4" stroke-width="0.6"/>
<text x="218.60" y="375.05" font-size="5.3" fill="#1c1c1c" text-anchor="middle" font-family="'Liberation Sans', sans-serif" textLength="9.69" lengthAdjust="spacingAndGlyphs">Scin</text>
<rect x="195.7" y="376" width="19.10" height="7.40" fill="#fff" stroke="#b4b4b4" stroke-width="0.6"/>
<text x="205.25" y="381.55" font-size="5.3" fill="#1c1c1c" text-anchor="middle" font-family="'Liberation Sans', sans-serif" textLength="13.01" lengthAdjust="spacingAndGlyphs">Arpc4</text>
<rect x="210.8" y="385.5" width="19.00" height="7.10" fill="#fff" stroke="#b4b4b4" stroke-width="0.6"/>
<text x="220.30" y="390.90" font-size="5.3" fill="#1c1c1c" text-anchor="middle" font-family="'Liberation Sans', sans-serif" textLength="13.01" lengthAdjust="spacingAndGlyphs">Arpc2</text>
<rect x="267.7" y="391.4" width="15.70" height="7.10" fill="#fff" stroke="#b4b4b4" stroke-width="0.6"/>
<text x="275.55" y="396.80" font-size="5.3" fill="#1c1c1c" text-anchor="middle" font-family="'Liberation Sans', sans-serif" textLength="10.24" lengthAdjust="spacingAndGlyphs">A2m</text>
<rect x="193.5" y="400.3" width="23.40" height="7.10" fill="#fff" stroke="#b4b4b4" stroke-width="0.6"/>
<text x="205.20" y="405.70" font-size="5.3" fill="#1c1c1c" text-anchor="middle" font-family="'Liberation Sans', sans-serif" textLength="16.34" lengthAdjust="spacingAndGlyphs">Mthfd1l</text>
<rect x="149.8" y="397.3" width="19.20" height="7.10" fill="#fff" stroke="#b4b4b4" stroke-width="0.6"/>
<text x="159.40" y="402.70" font-size="5.3" fill="#1c1c1c" text-anchor="middle" font-family="'Liberation Sans', sans-serif" textLength="11.63" lengthAdjust="spacingAndGlyphs">Sun2</text>
<rect x="137" y="413" width="16.80" height="7.30" fill="#fff" stroke="#b4b4b4" stroke-width="0.6"/>
<text x="145.40" y="418.50" font-size="5.3" fill="#1c1c1c" text-anchor="middle" font-family="'Liberation Sans', sans-serif" textLength="11.63" lengthAdjust="spacingAndGlyphs">Actr2</text>
<rect x="173.8" y="426.8" width="21.20" height="7.00" fill="#fff" stroke="#b4b4b4" stroke-width="0.6"/>
<text x="184.40" y="432.15" font-size="5.3" fill="#1c1c1c" text-anchor="middle" font-family="'Liberation Sans', sans-serif" textLength="14.95" lengthAdjust="spacingAndGlyphs">Myo1g</text>
<rect x="293.5" y="326.7" width="24.40" height="7.30" fill="#fff" stroke="#b4b4b4" stroke-width="0.6"/>
<text x="305.70" y="332.20" font-size="5.3" fill="#1c1c1c" text-anchor="middle" font-family="'Liberation Sans', sans-serif" textLength="17.72" lengthAdjust="spacingAndGlyphs">Myo18a</text>
<rect x="303.5" y="348" width="25.00" height="7.60" fill="#fff" stroke="#b4b4b4" stroke-width="0.6"/>
<text x="316.00" y="353.65" font-size="5.3" fill="#1c1c1c" text-anchor="middle" font-family="'Liberation Sans', sans-serif" textLength="17.72" lengthAdjust="spacingAndGlyphs">Pip5k1c</text>
<rect x="305" y="359.8" width="14.40" height="6.40" fill="#fff" stroke="#b4b4b4" stroke-width="0.6"/>
<text x="312.20" y="364.85" font-size="5.3" fill="#1c1c1c" text-anchor="middle" font-family="'Liberation Sans', sans-serif" textLength="8.58" lengthAdjust="spacingAndGlyphs">Rinl</text>
<rect x="295.4" y="369" width="22.10" height="7.30" fill="#fff" stroke="#b4b4b4" stroke-width="0.6"/>
<text x="306.45" y="374.50" font-size="5.3" fill="#1c1c1c" text-anchor="middle" font-family="'Liberation Sans', sans-serif" textLength="14.40" lengthAdjust="spacingAndGlyphs">Arglu1</text>
<rect x="295.4" y="378.7" width="24.00" height="6.90" fill="#fff" stroke="#b4b4b4" stroke-width="0.6"/>
<text x="307.40" y="384.00" font-size="5.3" fill="#1c1c1c" text-anchor="middle" font-family="'Liberation Sans', sans-serif" textLength="16.89" lengthAdjust="spacingAndGlyphs">Rb1cc1</text>
<rect x="298.3" y="388.5" width="19.20" height="6.70" fill="#fff" stroke="#b4b4b4" stroke-width="0.6"/>
<text x="307.90" y="393.70" font-size="5.3" fill="#1c1c1c" text-anchor="middle" font-family="'Liberation Sans', sans-serif" textLength="12.74" lengthAdjust="spacingAndGlyphs">Plbd2</text>
<rect x="298.3" y="397.5" width="19.20" height="6.70" fill="#fff" stroke="#b4b4b4" stroke-width="0.6"/>
<text x="307.90" y="402.70" font-size="5.3" fill="#1c1c1c" text-anchor="middle" font-family="'Liberation Sans', sans-serif" textLength="12.46" lengthAdjust="spacingAndGlyphs">Mug1</text>
<rect x="338.7" y="399.2" width="10.80" height="6.80" fill="#fff" stroke="#b4b4b4" stroke-width="0.6"/>
<text x="344.10" y="404.45" font-size="5.3" fill="#1c1c1c" text-anchor="middle" font-family="'Liberation Sans', sans-serif" textLength="6.37" lengthAdjust="spacingAndGlyphs">Hp</text>
<rect x="316.3" y="421.5" width="25.00" height="7.00" fill="#fff" stroke="#b4b4b4" stroke-width="0.6"/>
<text x="328.80" y="426.85" font-size="5.3" fill="#1c1c1c" text-anchor="middle" font-family="'Liberation Sans', sans-serif" textLength="17.72" lengthAdjust="spacingAndGlyphs">Bloc1s2</text>
<rect x="318.3" y="437" width="24.40" height="7.20" fill="#fff" stroke="#b4b4b4" stroke-width="0.6"/>
<text x="330.50" y="442.45" font-size="5.3" fill="#1c1c1c" text-anchor="middle" font-family="'Liberation Sans', sans-serif" textLength="15.31" lengthAdjust="spacingAndGlyphs">Trim35</text>
<rect x="315.4" y="446.5" width="27.30" height="7.30" fill="#fff" stroke="#b4b4b4" stroke-width="0.6"/>
<text x="329.05" y="452.00" font-size="5.3" fill="#1c1c1c" text-anchor="middle" font-family="'Liberation Sans', sans-serif" textLength="19.94" lengthAdjust="spacingAndGlyphs">Unc93b1</text>
<rect x="324.6" y="457.7" width="21.90" height="7.30" fill="#fff" stroke="#b4b4b4" stroke-width="0.6"/>
<text x="335.55" y="463.20" font-size="5.3" fill="#1c1c1c" text-anchor="middle" font-family="'Liberation Sans', sans-serif" textLength="13.85" lengthAdjust="spacingAndGlyphs">Echs1</text>
<rect x="350.8" y="447" width="117.50" height="7.50" fill="#fff" stroke="#b4b4b4" stroke-width="0.6"/>
<text x="409.55" y="452.60" font-size="5.3" fill="#1c1c1c" text-anchor="middle" font-family="'Liberation Sans', sans-serif" textLength="94.72" lengthAdjust="spacingAndGlyphs">Serpina1c;Serpina1a;Serpina1d;Serpina1b</text>
<rect x="362.5" y="427" width="17.30" height="7.20" fill="#fff" stroke="#b4b4b4" stroke-width="0.6"/>
<text x="371.15" y="432.45" font-size="5.3" fill="#1c1c1c" text-anchor="middle" font-family="'Liberation Sans', sans-serif" textLength="11.63" lengthAdjust="spacingAndGlyphs">Qpctl</text>
<rect x="367" y="415.4" width="17.60" height="7.30" fill="#fff" stroke="#b4b4b4" stroke-width="0.6"/>
<text x="375.80" y="420.90" font-size="5.3" fill="#1c1c1c" text-anchor="middle" font-family="'Liberation Sans', sans-serif" textLength="11.90" lengthAdjust="spacingAndGlyphs">Wdr1</text>
<rect x="379.5" y="400" width="8.50" height="7.50" fill="#fff" stroke="#b4b4b4" stroke-width="0.6"/>
<text x="383.75" y="405.60" font-size="5.3" fill="#1c1c1c" text-anchor="middle" font-family="'Liberation Sans', sans-serif" textLength="4.43" lengthAdjust="spacingAndGlyphs">Tf</text>
<rect x="395.8" y="401" width="14.70" height="7.50" fill="#fff" stroke="#b4b4b4" stroke-width="0.6"/>
<text x="403.15" y="406.60" font-size="5.3" fill="#1c1c1c" text-anchor="middle" font-family="'Liberation Sans', sans-serif" textLength="9.14" lengthAdjust="spacingAndGlyphs">C4b</text>
<rect x="399" y="417.2" width="23.00" height="6.80" fill="#fff" stroke="#b4b4b4" stroke-width="0.6"/>
<text x="410.50" y="422.45" font-size="5.3" fill="#1c1c1c" text-anchor="middle" font-family="'Liberation Sans', sans-serif" textLength="16.89" lengthAdjust="spacingAndGlyphs">Ccdc27</text>
<rect x="442.7" y="389.7" width="22.60" height="7.60" fill="#fff" stroke="#b4b4b4" stroke-width="0.6"/>
<text x="454.00" y="395.35" font-size="5.3" fill="#1c1c1c" text-anchor="middle" font-family="'Liberation Sans', sans-serif" textLength="15.50" lengthAdjust="spacingAndGlyphs">Tmod3</text>
<rect x="439.5" y="369" width="12.70" height="6.50" fill="#fff" stroke="#b4b4b4" stroke-width="0.6"/>
<text x="445.85" y="374.10" font-size="5.3" fill="#1c1c1c" text-anchor="middle" font-family="'Liberation Sans', sans-serif" textLength="7.20" lengthAdjust="spacingAndGlyphs">Plg</text>
<rect x="414.6" y="378.5" width="15.40" height="7.00" fill="#fff" stroke="#b4b4b4" stroke-width="0.6"/>
<text x="422.30" y="383.85" font-size="5.3" fill="#1c1c1c" text-anchor="middle" font-family="'Liberation Sans', sans-serif" textLength="9.97" lengthAdjust="spacingAndGlyphs">Setx</text>
<rect x="416" y="367.3" width="19.00" height="6.90" fill="#fff" stroke="#b4b4b4" stroke-width="0.6"/>
<text x="425.50" y="372.60" font-size="5.3" fill="#1c1c1c" text-anchor="middle" font-family="'Liberation Sans', sans-serif" textLength="14.12" lengthAdjust="spacingAndGlyphs">Lrrfip2</text>
<rect x="417.2" y="358" width="19.60" height="7.00" fill="#fff" stroke="#b4b4b4" stroke-width="0.6"/>
<text x="427.00" y="363.35" font-size="5.3" fill="#1c1c1c" text-anchor="middle" font-family="'Liberation Sans', sans-serif" textLength="13.01" lengthAdjust="spacingAndGlyphs">Arpc5</text>
<rect x="414.8" y="346.3" width="49.70" height="7.80" fill="#fff" stroke="#b4b4b4" stroke-width="0.6"/>
<text x="439.65" y="352.05" font-size="5.3" fill="#1c1c1c" text-anchor="middle" font-family="'Liberation Sans', sans-serif" textLength="38.11" lengthAdjust="spacingAndGlyphs">PICALM-MLLT10</text>
<rect x="415.4" y="335.7" width="16.60" height="6.90" fill="#fff" stroke="#b4b4b4" stroke-width="0.6"/>
<text x="423.70" y="341.00" font-size="5.3" fill="#1c1c1c" text-anchor="middle" font-family="'Liberation Sans', sans-serif" textLength="10.52" lengthAdjust="spacingAndGlyphs">Ccr1</text>
<rect x="412.5" y="326.3" width="22.50" height="7.10" fill="#fff" stroke="#b4b4b4" stroke-width="0.6"/>
<text x="423.75" y="331.70" font-size="5.3" fill="#1c1c1c" text-anchor="middle" font-family="'Liberation Sans', sans-serif" textLength="16.34" lengthAdjust="spacingAndGlyphs">Coro1a</text>
<rect x="412.7" y="317.1" width="14.40" height="7.70" fill="#fff" stroke="#b4b4b4" stroke-width="0.6"/>
<text x="419.90" y="322.80" font-size="5.3" fill="#1c1c1c" text-anchor="middle" font-family="'Liberation Sans', sans-serif" textLength="11.90" lengthAdjust="spacingAndGlyphs">Tyms</text>
<rect x="410.4" y="307.5" width="18.10" height="7.70" fill="#fff" stroke="#b4b4b4" stroke-width="0.6"/>
<text x="419.45" y="313.20" font-size="5.3" fill="#1c1c1c" text-anchor="middle" font-family="'Liberation Sans', sans-serif" textLength="12.74" lengthAdjust="spacingAndGlyphs">Kctd5</text>
<rect x="408.8" y="297.5" width="18.30" height="7.70" fill="#fff" stroke="#b4b4b4" stroke-width="0.6"/>
<text x="417.95" y="303.20" font-size="5.3" fill="#1c1c1c" text-anchor="middle" font-family="'Liberation Sans', sans-serif" textLength="12.18" lengthAdjust="spacingAndGlyphs">Gmfg</text>
<rect x="384.2" y="339.6" width="19.60" height="6.90" fill="#fff" stroke="#b4b4b4" stroke-width="0.6"/>
<text x="394.00" y="344.90" font-size="5.3" fill="#1c1c1c" text-anchor="middle" font-family="'Liberation Sans', sans-serif" textLength="14.12" lengthAdjust="spacingAndGlyphs">Pfkfb1</text>
<rect x="381.9" y="328" width="16.10" height="7.00" fill="#fff" stroke="#b4b4b4" stroke-width="0.6"/>
<text x="389.95" y="333.35" font-size="5.3" fill="#1c1c1c" text-anchor="middle" font-family="'Liberation Sans', sans-serif" textLength="11.36" lengthAdjust="spacingAndGlyphs">Ahsg</text>
<rect x="378.7" y="317.7" width="18.20" height="7.70" fill="#fff" stroke="#b4b4b4" stroke-width="0.6"/>
<text x="387.80" y="323.40" font-size="5.3" fill="#1c1c1c" text-anchor="middle" font-family="'Liberation Sans', sans-serif" textLength="11.91" lengthAdjust="spacingAndGlyphs">Cd72</text>
<rect x="378" y="307.9" width="17.40" height="7.70" fill="#fff" stroke="#b4b4b4" stroke-width="0.6"/>
<text x="386.70" y="313.60" font-size="5.3" fill="#1c1c1c" text-anchor="middle" font-family="'Liberation Sans', sans-serif" textLength="11.63" lengthAdjust="spacingAndGlyphs">C1qc</text>
<rect x="375.8" y="298.5" width="19.60" height="7.70" fill="#fff" stroke="#b4b4b4" stroke-width="0.6"/>
<text x="385.60" y="304.20" font-size="5.3" fill="#1c1c1c" text-anchor="middle" font-family="'Liberation Sans', sans-serif" textLength="13.01" lengthAdjust="spacingAndGlyphs">Oxct1</text>
<rect x="375.4" y="287.7" width="18.10" height="7.70" fill="#fff" stroke="#b4b4b4" stroke-width="0.6"/>
<text x="384.45" y="293.40" font-size="5.3" fill="#1c1c1c" text-anchor="middle" font-family="'Liberation Sans', sans-serif" textLength="12.18" lengthAdjust="spacingAndGlyphs">Scyl2</text>
<rect x="373.3" y="277.3" width="27.50" height="8.10" fill="#fff" stroke="#b4b4b4" stroke-width="0.6"/>
<text x="387.05" y="283.20" font-size="5.3" fill="#1c1c1c" text-anchor="middle" font-family="'Liberation Sans', sans-serif" textLength="19.38" lengthAdjust="spacingAndGlyphs">Ccdc88c</text>
<rect x="347.3" y="278.7" width="23.10" height="6.70" fill="#fff" stroke="#b4b4b4" stroke-width="0.6"/>
<text x="358.85" y="283.90" font-size="5.3" fill="#1c1c1c" text-anchor="middle" font-family="'Liberation Sans', sans-serif" textLength="16.06" lengthAdjust="spacingAndGlyphs">Ppp1r7</text>
<rect x="341.5" y="286.9" width="25.40" height="7.10" fill="#fff" stroke="#b4b4b4" stroke-width="0.6"/>
<text x="354.20" y="292.30" font-size="5.3" fill="#1c1c1c" text-anchor="middle" font-family="'Liberation Sans', sans-serif" textLength="18.28" lengthAdjust="spacingAndGlyphs">Dpy19l1</text>
<rect x="348.3" y="295.6" width="14.80" height="7.10" fill="#fff" stroke="#b4b4b4" stroke-width="0.6"/>
<text x="355.70" y="301.00" font-size="5.3" fill="#1c1c1c" text-anchor="middle" font-family="'Liberation Sans', sans-serif" textLength="9.70" lengthAdjust="spacingAndGlyphs">Ipo8</text>
<rect x="338.7" y="304.2" width="20.10" height="7.10" fill="#fff" stroke="#b4b4b4" stroke-width="0.6"/>
<text x="348.75" y="309.60" font-size="5.3" fill="#1c1c1c" text-anchor="middle" font-family="'Liberation Sans', sans-serif" textLength="16.34" lengthAdjust="spacingAndGlyphs">Coro1b</text>
<rect x="343.5" y="313.3" width="15.70" height="7.70" fill="#fff" stroke="#b4b4b4" stroke-width="0.6"/>
<text x="351.35" y="319.00" font-size="5.3" fill="#1c1c1c" text-anchor="middle" font-family="'Liberation Sans', sans-serif" textLength="9.97" lengthAdjust="spacingAndGlyphs">Ppig</text>
<rect x="337.3" y="324.6" width="17.70" height="6.90" fill="#fff" stroke="#b4b4b4" stroke-width="0.6"/>
<text x="346.15" y="329.90" font-size="5.3" fill="#1c1c1c" text-anchor="middle" font-family="'Liberation Sans', sans-serif" textLength="11.91" lengthAdjust="spacingAndGlyphs">C1qa</text>
<rect x="333.5" y="334.4" width="21.10" height="7.70" fill="#fff" stroke="#b4b4b4" stroke-width="0.6"/>
<text x="344.05" y="340.10" font-size="5.3" fill="#1c1c1c" text-anchor="middle" font-family="'Liberation Sans', sans-serif" textLength="14.13" lengthAdjust="spacingAndGlyphs">Kif20b</text>
<rect x="329" y="344.2" width="22.20" height="7.10" fill="#fff" stroke="#b4b4b4" stroke-width="0.6"/>
<text x="340.10" y="349.60" font-size="5.3" fill="#1c1c1c" text-anchor="middle" font-family="'Liberation Sans', sans-serif" textLength="16.62" lengthAdjust="spacingAndGlyphs">Eif2ak3</text>
<rect x="332.5" y="357.7" width="18.30" height="7.10" fill="#fff" stroke="#b4b4b4" stroke-width="0.6"/>
<text x="341.65" y="363.10" font-size="5.3" fill="#1c1c1c" text-anchor="middle" font-family="'Liberation Sans', sans-serif" textLength="12.46" lengthAdjust="spacingAndGlyphs">Mob2</text>
<rect x="444" y="376.7" width="38.2" height="11.8" fill="#5068b8" stroke="#3d52a2" stroke-width="0.8"/>
<text x="453.49" y="386.50" font-size="8.57" fill="#ffffff" font-weight="normal" font-family="'Liberation Sans', sans-serif" textLength="17.53" lengthAdjust="spacingAndGlyphs" >Jak1</text>
<text x="457.55" y="210.40" font-size="7.57" fill="#1a1a1a" font-weight="normal" font-family="'Liberation Sans', sans-serif" textLength="34.31" lengthAdjust="spacingAndGlyphs" >Color by:</text>
<text x="457.75" y="216.00" font-size="4.29" fill="#333" font-weight="normal" font-family="'Liberation Sans', sans-serif" textLength="38.21" lengthAdjust="spacingAndGlyphs" >Fx of Expt. found</text>
<circle cx="461.5" cy="226" r="3.8" fill="#c0393f"/>
<text x="469.55" y="228.60" font-size="7.57" fill="#1a1a1a" font-weight="normal" font-family="'Liberation Sans', sans-serif" textLength="25.31" lengthAdjust="spacingAndGlyphs" >100.00</text>
<circle cx="461.5" cy="235.8" r="3.8" fill="#3c3c3c"/>
<text x="469.55" y="238.40" font-size="7.57" fill="#1a1a1a" font-weight="normal" font-family="'Liberation Sans', sans-serif" textLength="21.41" lengthAdjust="spacingAndGlyphs" >10.00</text>
<circle cx="461.5" cy="245.4" r="3.8" fill="#3f7ccc"/>
<text x="469.55" y="248.00" font-size="7.57" fill="#1a1a1a" font-weight="normal" font-family="'Liberation Sans', sans-serif" textLength="17.41" lengthAdjust="spacingAndGlyphs" >0.00</text>
<circle cx="461.5" cy="255.2" r="3.8" fill="#8c8888"/>
<text x="469.55" y="257.80" font-size="7.57" fill="#888" font-weight="normal" font-family="'Liberation Sans', sans-serif" textLength="28.41" lengthAdjust="spacingAndGlyphs" >(Empty)</text>
<text x="457.55" y="270.50" font-size="7.57" fill="#1a1a1a" font-weight="normal" font-family="'Liberation Sans', sans-serif" textLength="28.31" lengthAdjust="spacingAndGlyphs" >Size by:</text>
<text x="457.75" y="276.00" font-size="4.29" fill="#333" font-weight="normal" font-family="'Liberation Sans', sans-serif" textLength="32.21" lengthAdjust="spacingAndGlyphs" >nPeptides_M2</text>
<circle cx="461.5" cy="286" r="3.8" fill="#8c8888"/>
<circle cx="461.5" cy="295.9" r="0.9" fill="#444"/>
<text x="469.55" y="288.70" font-size="7.57" fill="#1a1a1a" font-weight="normal" font-family="'Liberation Sans', sans-serif" textLength="16.61" lengthAdjust="spacingAndGlyphs" >≥ 10</text>
<text x="469.55" y="298.60" font-size="7.57" fill="#1a1a1a" font-weight="normal" font-family="'Liberation Sans', sans-serif" textLength="11.41" lengthAdjust="spacingAndGlyphs" >≤ 1</text>
<line x1="71.7" y1="205" x2="71.7" y2="541.2" stroke="#111" stroke-width="1.3"/>
<line x1="71.05" y1="540.5" x2="471" y2="540.5" stroke="#111" stroke-width="1.35"/>
<line x1="67" y1="233.65" x2="71.5" y2="233.65" stroke="#111" stroke-width="1.3"/>
<text x="26.57" y="236.95" font-size="10.57" fill="#1a1a1a" font-weight="normal" font-family="'Liberation Sans', sans-serif" textLength="35.87" lengthAdjust="spacingAndGlyphs" >0.00010</text>
<line x1="67" y1="277.9" x2="71.5" y2="277.9" stroke="#111" stroke-width="1.3"/>
<text x="26.57" y="281.20" font-size="10.57" fill="#1a1a1a" font-weight="normal" font-family="'Liberation Sans', sans-serif" textLength="35.87" lengthAdjust="spacingAndGlyphs" >0.00040</text>
<line x1="67" y1="306.9" x2="71.5" y2="306.9" stroke="#111" stroke-width="1.3"/>
<text x="26.57" y="310.20" font-size="10.57" fill="#1a1a1a" font-weight="normal" font-family="'Liberation Sans', sans-serif" textLength="35.87" lengthAdjust="spacingAndGlyphs" >0.00100</text>
<line x1="67" y1="350.65" x2="71.5" y2="350.65" stroke="#111" stroke-width="1.3"/>
<text x="26.57" y="353.95" font-size="10.57" fill="#1a1a1a" font-weight="normal" font-family="'Liberation Sans', sans-serif" textLength="35.87" lengthAdjust="spacingAndGlyphs" >0.00400</text>
<line x1="67" y1="379.65" x2="71.5" y2="379.65" stroke="#111" stroke-width="1.3"/>
<text x="26.57" y="382.95" font-size="10.57" fill="#1a1a1a" font-weight="normal" font-family="'Liberation Sans', sans-serif" textLength="35.87" lengthAdjust="spacingAndGlyphs" >0.01000</text>
<line x1="67" y1="423.65" x2="71.5" y2="423.65" stroke="#111" stroke-width="1.3"/>
<text x="26.57" y="426.95" font-size="10.57" fill="#1a1a1a" font-weight="normal" font-family="'Liberation Sans', sans-serif" textLength="35.87" lengthAdjust="spacingAndGlyphs" >0.04000</text>
<line x1="67" y1="452.9" x2="71.5" y2="452.9" stroke="#111" stroke-width="1.3"/>
<text x="26.57" y="456.20" font-size="10.57" fill="#1a1a1a" font-weight="normal" font-family="'Liberation Sans', sans-serif" textLength="35.87" lengthAdjust="spacingAndGlyphs" >0.10000</text>
<line x1="67" y1="496.65" x2="71.5" y2="496.65" stroke="#111" stroke-width="1.3"/>
<text x="26.57" y="499.95" font-size="10.57" fill="#1a1a1a" font-weight="normal" font-family="'Liberation Sans', sans-serif" textLength="35.87" lengthAdjust="spacingAndGlyphs" >0.40000</text>
<line x1="89.05" y1="540.6" x2="89.05" y2="544.9" stroke="#111" stroke-width="1.1"/>
<text x="85.92" y="558.80" font-size="10.57" fill="#1a1a1a" font-weight="normal" font-family="'Liberation Sans', sans-serif" textLength="6.27" lengthAdjust="spacingAndGlyphs" >0</text>
<line x1="119.42" y1="540.6" x2="119.42" y2="544.9" stroke="#111" stroke-width="1.1"/>
<text x="117.05" y="558.80" font-size="10.57" fill="#1a1a1a" font-weight="normal" font-family="'Liberation Sans', sans-serif" textLength="4.77" lengthAdjust="spacingAndGlyphs" >1</text>
<line x1="149.80" y1="540.6" x2="149.80" y2="544.9" stroke="#111" stroke-width="1.1"/>
<text x="146.67" y="558.80" font-size="10.57" fill="#1a1a1a" font-weight="normal" font-family="'Liberation Sans', sans-serif" textLength="6.27" lengthAdjust="spacingAndGlyphs" >2</text>
<line x1="180.18" y1="540.6" x2="180.18" y2="544.9" stroke="#111" stroke-width="1.1"/>
<text x="177.05" y="558.80" font-size="10.57" fill="#1a1a1a" font-weight="normal" font-family="'Liberation Sans', sans-serif" textLength="6.27" lengthAdjust="spacingAndGlyphs" >3</text>
<line x1="210.55" y1="540.6" x2="210.55" y2="544.9" stroke="#111" stroke-width="1.1"/>
<text x="207.42" y="558.80" font-size="10.57" fill="#1a1a1a" font-weight="normal" font-family="'Liberation Sans', sans-serif" textLength="6.27" lengthAdjust="spacingAndGlyphs" >4</text>
<line x1="240.93" y1="540.6" x2="240.93" y2="544.9" stroke="#111" stroke-width="1.1"/>
<text x="237.80" y="558.80" font-size="10.57" fill="#1a1a1a" font-weight="normal" font-family="'Liberation Sans', sans-serif" textLength="6.27" lengthAdjust="spacingAndGlyphs" >5</text>
<line x1="271.30" y1="540.6" x2="271.30" y2="544.9" stroke="#111" stroke-width="1.1"/>
<text x="268.17" y="558.80" font-size="10.57" fill="#1a1a1a" font-weight="normal" font-family="'Liberation Sans', sans-serif" textLength="6.27" lengthAdjust="spacingAndGlyphs" >6</text>
<line x1="301.68" y1="540.6" x2="301.68" y2="544.9" stroke="#111" stroke-width="1.1"/>
<text x="298.55" y="558.80" font-size="10.57" fill="#1a1a1a" font-weight="normal" font-family="'Liberation Sans', sans-serif" textLength="6.27" lengthAdjust="spacingAndGlyphs" >7</text>
<line x1="332.05" y1="540.6" x2="332.05" y2="544.9" stroke="#111" stroke-width="1.1"/>
<text x="328.92" y="558.80" font-size="10.57" fill="#1a1a1a" font-weight="normal" font-family="'Liberation Sans', sans-serif" textLength="6.27" lengthAdjust="spacingAndGlyphs" >8</text>
<line x1="362.43" y1="540.6" x2="362.43" y2="544.9" stroke="#111" stroke-width="1.1"/>
<text x="359.30" y="558.80" font-size="10.57" fill="#1a1a1a" font-weight="normal" font-family="'Liberation Sans', sans-serif" textLength="6.27" lengthAdjust="spacingAndGlyphs" >9</text>
<line x1="392.80" y1="540.6" x2="392.80" y2="544.9" stroke="#111" stroke-width="1.1"/>
<text x="387.17" y="558.80" font-size="10.57" fill="#1a1a1a" font-weight="normal" font-family="'Liberation Sans', sans-serif" textLength="11.27" lengthAdjust="spacingAndGlyphs" >10</text>
<line x1="423.18" y1="540.6" x2="423.18" y2="544.9" stroke="#111" stroke-width="1.1"/>
<text x="417.55" y="558.80" font-size="10.57" fill="#1a1a1a" font-weight="normal" font-family="'Liberation Sans', sans-serif" textLength="11.27" lengthAdjust="spacingAndGlyphs" >11</text>
<line x1="453.55" y1="540.6" x2="453.55" y2="544.9" stroke="#111" stroke-width="1.1"/>
<text x="447.92" y="558.80" font-size="10.57" fill="#1a1a1a" font-weight="normal" font-family="'Liberation Sans', sans-serif" textLength="11.27" lengthAdjust="spacingAndGlyphs" >12</text>
<text x="211.32" y="576.70" font-size="13.14" fill="#1a1a1a" font-weight="normal" font-family="'Liberation Sans', sans-serif" textLength="120.58" lengthAdjust="spacingAndGlyphs" >Log 2 fold change (Vs IgG)</text>
<g transform="translate(19.7,410.8) rotate(-90)">
<text x="-0.74" y="0.00" font-size="12.43" fill="#1a1a1a" font-weight="normal" font-family="'Liberation Sans', sans-serif" textLength="76.29" lengthAdjust="spacingAndGlyphs" >Adjusted P value</text>
</g>
<text x="10.02" y="612.30" font-size="18.14" fill="#000" font-weight="bold" font-family="'Liberation Sans', sans-serif" textLength="13.28" lengthAdjust="spacingAndGlyphs" >C</text>
<text x="66.97" y="630.30" font-size="10.57" fill="#1a1a1a" font-weight="normal" font-family="'Liberation Sans', sans-serif" textLength="16.27" lengthAdjust="spacingAndGlyphs" >IgG</text>
<text x="96.47" y="630.30" font-size="10.57" fill="#1a1a1a" font-weight="normal" font-family="'Liberation Sans', sans-serif" textLength="18.77" lengthAdjust="spacingAndGlyphs" >Flag</text>
<text x="123.07" y="630.30" font-size="10.57" fill="#1a1a1a" font-weight="normal" font-family="'Liberation Sans', sans-serif" textLength="15.97" lengthAdjust="spacingAndGlyphs" >IgG</text>
<text x="153.17" y="630.30" font-size="10.57" fill="#1a1a1a" font-weight="normal" font-family="'Liberation Sans', sans-serif" textLength="18.47" lengthAdjust="spacingAndGlyphs" >Flag</text>
<text x="10.19" y="655.00" font-size="10.29" fill="#1a1a1a" font-weight="normal" font-family="'Liberation Sans', sans-serif" textLength="47.93" lengthAdjust="spacingAndGlyphs" >IP:M2-Flag</text>
<text x="13.39" y="683.60" font-size="10.29" fill="#1a1a1a" font-weight="normal" font-family="'Liberation Sans', sans-serif" textLength="45.03" lengthAdjust="spacingAndGlyphs" >10% Input</text>
<text x="13.39" y="712.50" font-size="10.29" fill="#1a1a1a" font-weight="normal" font-family="'Liberation Sans', sans-serif" textLength="45.03" lengthAdjust="spacingAndGlyphs" >10% Input</text>
<text x="181.41" y="653.80" font-size="10.00" fill="#1a1a1a" font-weight="normal" font-family="'Liberation Sans', sans-serif" textLength="20.30" lengthAdjust="spacingAndGlyphs" >Jak1</text>
<text x="181.41" y="683.90" font-size="10.00" fill="#1a1a1a" font-weight="normal" font-family="'Liberation Sans', sans-serif" textLength="20.30" lengthAdjust="spacingAndGlyphs" >Jak1</text>
<text x="181.71" y="712.00" font-size="10.00" fill="#1a1a1a" font-weight="normal" font-family="'Liberation Sans', sans-serif" textLength="31.10" lengthAdjust="spacingAndGlyphs" >B-actin</text>
<defs><filter id="bl1" x="-30%" y="-100%" width="160%" height="300%"><feGaussianBlur stdDeviation="0.9"/></filter><filter id="bl2" x="-30%" y="-100%" width="160%" height="300%"><feGaussianBlur stdDeviation="1.6"/></filter><filter id="bl3" x="-30%" y="-100%" width="160%" height="300%"><feGaussianBlur stdDeviation="2.5"/></filter></defs>
<svg x="62.5" y="636.8" width="114.6" height="25.4" overflow="hidden"><g transform="translate(-62.5,-636.8)">
<rect x="62.5" y="636.8" width="114.6" height="25.4" fill="#e4e4e4"/>
<rect x="60" y="636" width="10" height="27" fill="#d8d8d8" opacity="0.6" filter="url(#bl2)"/>
<rect x="93" y="632" width="24" height="36" fill="#9a9a9a" opacity="0.8" filter="url(#bl2)"/>
<rect x="96" y="636" width="18" height="10" fill="#888" opacity="0.5" filter="url(#bl2)"/>
<rect x="117" y="636" width="33" height="27" fill="#efefef" opacity="0.8" filter="url(#bl2)"/>
<rect x="150" y="632" width="22" height="36" fill="#c2c2c2" opacity="0.75" filter="url(#bl2)"/>
<rect x="172" y="636" width="8" height="27" fill="#ebebeb" opacity="0.8" filter="url(#bl2)"/>
<g opacity="1" filter="url(#bl1)" fill="#000"><rect x="94.20" y="649.32" width="20.80" height="4.76" rx="2.38"/><path d="M95.03,651.70 C98.36,647.36 110.84,647.36 114.17,651.70 C110.84,656.04 98.36,656.04 95.03,651.70 Z"/></g>
<g opacity="0.9" filter="url(#bl1)" fill="#222"><rect x="151.80" y="649.01" width="16.70" height="2.58" rx="1.29"/><path d="M152.47,650.30 C155.14,647.94 165.16,647.94 167.83,650.30 C165.16,652.66 155.14,652.66 152.47,650.30 Z"/></g>
</g></svg>
<svg x="62.5" y="666.2" width="114.6" height="25.9" overflow="hidden"><g transform="translate(-62.5,-666.2)">
<rect x="62.5" y="666.2" width="114.6" height="25.9" fill="#a6a6a6"/>
<rect x="60" y="684" width="120" height="6" fill="#b9b9b9" opacity="0.8" filter="url(#bl2)"/>
<rect x="88" y="664" width="6" height="30" fill="#b6b6b6" opacity="0.6" filter="url(#bl2)"/>
<rect x="143" y="664" width="7" height="30" fill="#b6b6b6" opacity="0.6" filter="url(#bl2)"/>
<g opacity="0.9" filter="url(#bl2)" fill="#858585"><rect x="67.00" y="678.98" width="20.70" height="2.45" rx="1.22"/><path d="M67.83,680.20 C71.14,677.97 83.56,677.97 86.87,680.20 C83.56,682.43 71.14,682.43 67.83,680.20 Z"/></g>
<g opacity="0.9" filter="url(#bl2)" fill="#858585"><rect x="94.60" y="678.98" width="20.80" height="2.45" rx="1.22"/><path d="M95.43,680.20 C98.76,677.97 111.24,677.97 114.57,680.20 C111.24,682.43 98.76,682.43 95.43,680.20 Z"/></g>
<g opacity="0.9" filter="url(#bl2)" fill="#858585"><rect x="122.30" y="678.98" width="20.70" height="2.45" rx="1.22"/><path d="M123.13,680.20 C126.44,677.97 138.86,677.97 142.17,680.20 C138.86,682.43 126.44,682.43 123.13,680.20 Z"/></g>
<g opacity="0.9" filter="url(#bl2)" fill="#858585"><rect x="150.00" y="677.38" width="20.80" height="2.45" rx="1.22"/><path d="M150.83,678.60 C154.16,676.37 166.64,676.37 169.97,678.60 C166.64,680.83 154.16,680.83 150.83,678.60 Z"/></g>
</g></svg>
<svg x="62.5" y="696.4" width="114.6" height="25.6" overflow="hidden"><g transform="translate(-62.5,-696.4)">
<rect x="62.5" y="696.4" width="114.6" height="25.6" fill="#e6e6e6"/>
<g opacity="1" filter="url(#bl1)" fill="#000"><rect x="65.00" y="707.15" width="23.20" height="4.90" rx="2.45"/><path d="M65.93,709.60 C69.64,705.14 83.56,705.14 87.27,709.60 C83.56,714.06 69.64,714.06 65.93,709.60 Z"/></g>
<g opacity="1" filter="url(#bl1)" fill="#000"><rect x="91.60" y="707.22" width="23.10" height="4.76" rx="2.38"/><path d="M92.52,709.60 C96.22,705.26 110.08,705.26 113.78,709.60 C110.08,713.94 96.22,713.94 92.52,709.60 Z"/></g>
<g opacity="1" filter="url(#bl1)" fill="#000"><rect x="118.80" y="707.33" width="22.40" height="3.94" rx="1.97"/><path d="M119.70,709.30 C123.28,705.70 136.72,705.70 140.30,709.30 C136.72,712.90 123.28,712.90 119.70,709.30 Z"/></g>
<g opacity="1" filter="url(#bl1)" fill="#000"><rect x="145.80" y="705.79" width="23.20" height="4.22" rx="2.11"/><path d="M146.73,707.90 C150.44,704.06 164.36,704.06 168.07,707.90 C164.36,711.74 150.44,711.74 146.73,707.90 Z"/></g>
</g></svg>
<rect x="62.5" y="636.8" width="114.6" height="25.4" fill="none" stroke="#000" stroke-width="1.3"/>
<rect x="62.5" y="666.2" width="114.6" height="25.9" fill="none" stroke="#000" stroke-width="1.3"/>
<rect x="62.5" y="696.4" width="114.6" height="25.6" fill="none" stroke="#000" stroke-width="1.3"/>
<line x1="63" y1="726.3" x2="118" y2="726.3" stroke="#000" stroke-width="1"/>
<line x1="121.3" y1="726.3" x2="176.8" y2="726.3" stroke="#000" stroke-width="1"/>
<text x="63.16" y="740.00" font-size="10.00" fill="#1a1a1a" font-weight="normal" font-family="'Liberation Sans', sans-serif" textLength="55.45" lengthAdjust="spacingAndGlyphs" >CALM-AF10</text>
<text x="126.91" y="740.00" font-size="10.00" fill="#1a1a1a" font-weight="normal" font-family="'Liberation Sans', sans-serif" textLength="45.45" lengthAdjust="spacingAndGlyphs" >MLL-AF10</text>
<text x="80.16" y="751.25" font-size="10.00" fill="#1a1a1a" font-weight="normal" font-family="'Liberation Sans', sans-serif" textLength="21.20" lengthAdjust="spacingAndGlyphs" >AML</text>
<text x="138.16" y="751.25" font-size="10.00" fill="#1a1a1a" font-weight="normal" font-family="'Liberation Sans', sans-serif" textLength="21.20" lengthAdjust="spacingAndGlyphs" >AML</text>
<text x="234.75" y="613.00" font-size="17.57" fill="#000" font-weight="bold" font-family="'Liberation Sans', sans-serif" textLength="14.81" lengthAdjust="spacingAndGlyphs" >D</text>
<text x="241.36" y="630.00" font-size="10.71" fill="#1a1a1a" font-weight="normal" font-family="'Liberation Sans', sans-serif" textLength="14.19" lengthAdjust="spacingAndGlyphs" >On</text>
<text x="281.26" y="630.00" font-size="10.71" fill="#1a1a1a" font-weight="normal" font-family="'Liberation Sans', sans-serif" textLength="15.19" lengthAdjust="spacingAndGlyphs" >Off</text>
<text x="315.46" y="630.00" font-size="10.71" fill="#1a1a1a" font-weight="normal" font-family="'Liberation Sans', sans-serif" textLength="23.69" lengthAdjust="spacingAndGlyphs" >Off +</text>
<text x="348.86" y="630.00" font-size="10.71" fill="#1a1a1a" font-weight="normal" font-family="'Liberation Sans', sans-serif" textLength="14.29" lengthAdjust="spacingAndGlyphs" >On</text>
<text x="383.16" y="630.00" font-size="10.71" fill="#1a1a1a" font-weight="normal" font-family="'Liberation Sans', sans-serif" textLength="15.19" lengthAdjust="spacingAndGlyphs" >Off</text>
<text x="417.26" y="630.00" font-size="10.71" fill="#1a1a1a" font-weight="normal" font-family="'Liberation Sans', sans-serif" textLength="21.39" lengthAdjust="spacingAndGlyphs" >Off+</text>
<text x="315.86" y="641.60" font-size="10.71" fill="#1a1a1a" font-weight="normal" font-family="'Liberation Sans', sans-serif" textLength="32.99" lengthAdjust="spacingAndGlyphs" >MG132</text>
<text x="417.26" y="641.60" font-size="10.71" fill="#1a1a1a" font-weight="normal" font-family="'Liberation Sans', sans-serif" textLength="33.89" lengthAdjust="spacingAndGlyphs" >MG132</text>
<text x="448.43" y="668.30" font-size="9.57" fill="#1a1a1a" font-weight="normal" font-family="'Liberation Sans', sans-serif" textLength="21.15" lengthAdjust="spacingAndGlyphs" >Jak1</text>
<text x="447.93" y="708.30" font-size="9.57" fill="#1a1a1a" font-weight="normal" font-family="'Liberation Sans', sans-serif" textLength="32.25" lengthAdjust="spacingAndGlyphs" >B-actin</text>
<svg x="235.8" y="648.6" width="208.8" height="28.8" overflow="hidden"><g transform="translate(-235.8,-648.6)">
<rect x="235.8" y="648.6" width="208.8" height="28.8" fill="#dedede"/>
<rect x="230" y="646" width="220" height="6" fill="#f0f0f0" opacity="0.8" filter="url(#bl2)"/>
<rect x="265" y="652" width="12" height="28" fill="#e8e8e8" opacity="0.7" filter="url(#bl2)"/>
<rect x="298" y="652" width="11" height="28" fill="#e9e9e9" opacity="0.7" filter="url(#bl2)"/>
<rect x="370" y="652" width="10" height="28" fill="#e6e6e6" opacity="0.6" filter="url(#bl2)"/>
<rect x="240.5" y="655" width="25.5" height="24" fill="#8e8e8e" opacity="0.3" filter="url(#bl3)"/>
<g opacity="0.65" filter="url(#bl2)" fill="#555"><rect x="240.50" y="659.97" width="25.50" height="2.86" rx="1.43"/><path d="M241.52,661.40 C245.60,658.80 260.90,658.80 264.98,661.40 C260.90,664.00 245.60,664.00 241.52,661.40 Z"/></g>
<g opacity="0.25" filter="url(#bl2)" fill="#555"><rect x="240.50" y="666.71" width="25.50" height="2.18" rx="1.09"/><path d="M241.52,667.80 C245.60,665.82 260.90,665.82 264.98,667.80 C260.90,669.78 245.60,669.78 241.52,667.80 Z"/></g>
<rect x="275.4" y="655" width="22.100000000000023" height="24" fill="#8e8e8e" opacity="0.22" filter="url(#bl3)"/>
<g opacity="0.45" filter="url(#bl2)" fill="#666"><rect x="275.40" y="659.97" width="22.10" height="2.86" rx="1.43"/><path d="M276.28,661.40 C279.82,658.80 293.08,658.80 296.62,661.40 C293.08,664.00 279.82,664.00 276.28,661.40 Z"/></g>
<g opacity="0.22" filter="url(#bl2)" fill="#555"><rect x="275.40" y="666.71" width="22.10" height="2.18" rx="1.09"/><path d="M276.28,667.80 C279.82,665.82 293.08,665.82 296.62,667.80 C293.08,669.78 279.82,669.78 276.28,667.80 Z"/></g>
<rect x="310.3" y="655" width="23.19999999999999" height="24" fill="#8e8e8e" opacity="0.6" filter="url(#bl3)"/>
<g opacity="0.9" filter="url(#bl2)" fill="#1a1a1a"><rect x="310.30" y="659.97" width="23.20" height="2.86" rx="1.43"/><path d="M311.23,661.40 C314.94,658.80 328.86,658.80 332.57,661.40 C328.86,664.00 314.94,664.00 311.23,661.40 Z"/></g>
<g opacity="0.3" filter="url(#bl2)" fill="#555"><rect x="310.30" y="666.71" width="23.20" height="2.18" rx="1.09"/><path d="M311.23,667.80 C314.94,665.82 328.86,665.82 332.57,667.80 C328.86,669.78 314.94,669.78 311.23,667.80 Z"/></g>
<rect x="343.8" y="655" width="24.399999999999977" height="24" fill="#8e8e8e" opacity="0.32" filter="url(#bl3)"/>
<g opacity="0.6" filter="url(#bl2)" fill="#555"><rect x="343.80" y="659.97" width="24.40" height="2.86" rx="1.43"/><path d="M344.78,661.40 C348.68,658.80 363.32,658.80 367.22,661.40 C363.32,664.00 348.68,664.00 344.78,661.40 Z"/></g>
<g opacity="0.25" filter="url(#bl2)" fill="#555"><rect x="343.80" y="666.71" width="24.40" height="2.18" rx="1.09"/><path d="M344.78,667.80 C348.68,665.82 363.32,665.82 367.22,667.80 C363.32,669.78 348.68,669.78 344.78,667.80 Z"/></g>
<rect x="378" y="655" width="14" height="24" fill="#8e8e8e" opacity="0.1" filter="url(#bl3)"/>
<g opacity="0.12" filter="url(#bl2)" fill="#777"><rect x="378.00" y="659.97" width="14.00" height="2.86" rx="1.43"/><path d="M378.56,661.40 C380.80,658.80 389.20,658.80 391.44,661.40 C389.20,664.00 380.80,664.00 378.56,661.40 Z"/></g>
<g opacity="0.06" filter="url(#bl2)" fill="#555"><rect x="378.00" y="666.71" width="14.00" height="2.18" rx="1.09"/><path d="M378.56,667.80 C380.80,665.82 389.20,665.82 391.44,667.80 C389.20,669.78 380.80,669.78 378.56,667.80 Z"/></g>
<rect x="412.4" y="655" width="26.600000000000023" height="24" fill="#8e8e8e" opacity="0.32" filter="url(#bl3)"/>
<g opacity="0.55" filter="url(#bl2)" fill="#555"><rect x="412.40" y="659.97" width="26.60" height="2.86" rx="1.43"/><path d="M413.46,661.40 C417.72,658.80 433.68,658.80 437.94,661.40 C433.68,664.00 417.72,664.00 413.46,661.40 Z"/></g>
<g opacity="0.22" filter="url(#bl2)" fill="#555"><rect x="412.40" y="666.71" width="26.60" height="2.18" rx="1.09"/><path d="M413.46,667.80 C417.72,665.82 433.68,665.82 437.94,667.80 C433.68,669.78 417.72,669.78 413.46,667.80 Z"/></g>
</g></svg>
<rect x="235.8" y="648.6" width="208.8" height="28.8" fill="none" stroke="#000" stroke-width="1.3"/>
<rect x="235.8" y="684.8" width="208.8" height="36.8" fill="#e6e6e6"/>
<g opacity="1" filter="url(#bl1)" fill="#000"><rect x="245.80" y="698.35" width="26.00" height="5.30" rx="2.65"/><path d="M246.84,701.00 C251.00,696.16 266.60,696.16 270.76,701.00 C266.60,705.84 251.00,705.84 246.84,701.00 Z"/></g>
<g opacity="1" filter="url(#bl1)" fill="#000"><rect x="279.60" y="699.25" width="25.40" height="5.30" rx="2.65"/><path d="M280.62,701.90 C284.68,697.06 299.92,697.06 303.98,701.90 C299.92,706.74 284.68,706.74 280.62,701.90 Z"/></g>
<g opacity="1" filter="url(#bl1)" fill="#000"><rect x="311.30" y="698.55" width="27.50" height="4.90" rx="2.45"/><path d="M312.40,701.00 C316.80,696.54 333.30,696.54 337.70,701.00 C333.30,705.46 316.80,705.46 312.40,701.00 Z"/></g>
<g opacity="1" filter="url(#bl1)" fill="#000"><rect x="345.00" y="699.35" width="26.50" height="5.30" rx="2.65"/><path d="M346.06,702.00 C350.30,697.16 366.20,697.16 370.44,702.00 C366.20,706.84 350.30,706.84 346.06,702.00 Z"/></g>
<g opacity="1" filter="url(#bl1)" fill="#000"><rect x="378.80" y="699.92" width="26.60" height="5.17" rx="2.58"/><path d="M379.86,702.50 C384.12,697.79 400.08,697.79 404.34,702.50 C400.08,707.21 384.12,707.21 379.86,702.50 Z"/></g>
<g opacity="1" filter="url(#bl1)" fill="#000"><rect x="412.40" y="700.44" width="25.50" height="3.13" rx="1.56"/><path d="M413.42,702.00 C417.50,699.15 432.80,699.15 436.88,702.00 C432.80,704.85 417.50,704.85 413.42,702.00 Z"/></g>
<rect x="235.8" y="684.8" width="208.8" height="36.8" fill="none" stroke="#000" stroke-width="1.3"/>
<line x1="240.8" y1="725.7" x2="333.2" y2="725.7" stroke="#000" stroke-width="1"/>
<line x1="345.6" y1="725.7" x2="438" y2="725.7" stroke="#000" stroke-width="1"/>
<text x="259.54" y="739.40" font-size="9.43" fill="#1a1a1a" font-weight="normal" font-family="'Liberation Sans', sans-serif" textLength="55.23" lengthAdjust="spacingAndGlyphs" >CALM-AF10</text>
<text x="369.54" y="739.40" font-size="9.43" fill="#1a1a1a" font-weight="normal" font-family="'Liberation Sans', sans-serif" textLength="45.53" lengthAdjust="spacingAndGlyphs" >MLL-AF10</text>
</svg></body></html>
